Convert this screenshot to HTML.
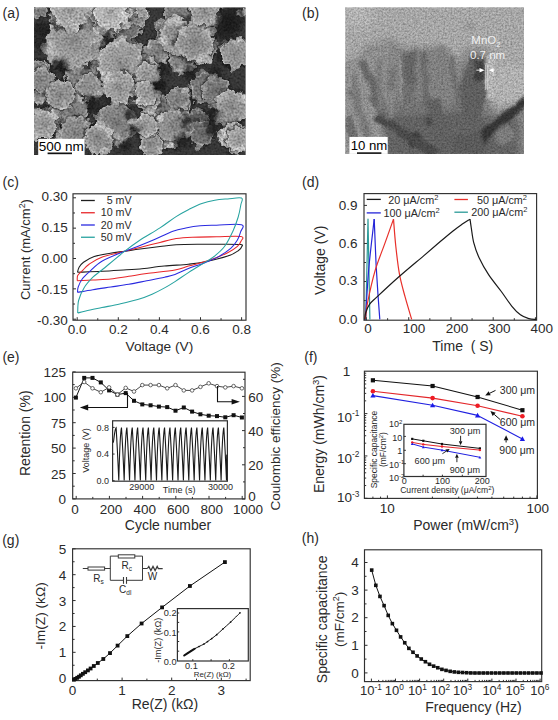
<!DOCTYPE html><html><head><meta charset="utf-8"><style>html,body{margin:0;padding:0;background:#fff;width:558px;height:720px;overflow:hidden}svg text{font-family:"Liberation Sans", sans-serif}</style></head><body><svg width="558" height="720" viewBox="0 0 558 720" style="position:absolute;left:0;top:0" font-family='"Liberation Sans", sans-serif'>
<rect width="558" height="720" fill="#ffffff"/>
<defs>
<filter id="texA" x="0" y="0" width="100%" height="100%">
  <feTurbulence type="fractalNoise" baseFrequency="0.15" numOctaves="2" seed="4" result="dn"/>
  <feDisplacementMap in="SourceGraphic" in2="dn" scale="10" xChannelSelector="R" yChannelSelector="G" result="disp"/>
  <feGaussianBlur in="disp" stdDeviation="0.6" result="sb"/>
  <feTurbulence type="fractalNoise" baseFrequency="0.5" numOctaves="2" seed="7" result="n"/>
  <feColorMatrix in="n" type="matrix" values="1 0 0 0 0  1 0 0 0 0  1 0 0 0 0  0 0 0 0 1" result="g"/>
  <feComposite in="sb" in2="g" operator="arithmetic" k1="1.6" k2="0.2" k3="0" k4="0"/>
</filter>
<filter id="texB" x="0" y="0" width="100%" height="100%">
  <feTurbulence type="fractalNoise" baseFrequency="0.08" numOctaves="2" seed="9" result="dn"/>
  <feDisplacementMap in="SourceGraphic" in2="dn" scale="6" xChannelSelector="R" yChannelSelector="G" result="disp"/>
  <feGaussianBlur in="disp" stdDeviation="0.5" result="sb"/>
  <feTurbulence type="fractalNoise" baseFrequency="0.55" numOctaves="2" seed="11" result="n"/>
  <feColorMatrix in="n" type="matrix" values="1 0 0 0 0  1 0 0 0 0  1 0 0 0 0  0 0 0 0 1" result="g"/>
  <feComposite in="sb" in2="g" operator="arithmetic" k1="1.25" k2="0.38" k3="0" k4="0"/>
</filter>
<filter id="blur2"><feGaussianBlur stdDeviation="2"/></filter>
<filter id="blur15"><feGaussianBlur stdDeviation="1.4"/></filter>
<filter id="blur4"><feGaussianBlur stdDeviation="4"/></filter>
<filter id="blur1"><feGaussianBlur stdDeviation="1"/></filter>
<radialGradient id="blob" cx="50%" cy="50%" r="50%">
  <stop offset="0" stop-color="#fff" stop-opacity="1"/>
  <stop offset="0.7" stop-color="#fff" stop-opacity="0.85"/>
  <stop offset="1" stop-color="#fff" stop-opacity="0"/>
</radialGradient>
</defs>
<text x="2.50" y="17.60" font-size="14" text-anchor="start" fill="#2a2a2a">(a)</text>
<clipPath id="clipA"><rect x="34" y="7.5" width="211.5" height="147.5"/></clipPath>
<g clip-path="url(#clipA)">
<rect x="34" y="7.5" width="211.5" height="147.5" fill="#303030"/>
<g filter="url(#texA)">
<rect x="24" y="-2.5" width="231.5" height="167.5" fill="#383838"/>
<radialGradient id="halo"><stop offset="0.74" stop-color="#141414" stop-opacity="0.9"/><stop offset="1" stop-color="#161616" stop-opacity="0"/></radialGradient>
<radialGradient id="rim"><stop offset="0" stop-color="#000" stop-opacity="0.18"/><stop offset="0.75" stop-color="#fff" stop-opacity="0"/><stop offset="1" stop-color="#fff" stop-opacity="0.35"/></radialGradient>
<circle cx="197" cy="123.8" r="16.5" fill="url(#halo)"/>
<circle cx="197" cy="123.8" r="13.200000000000001" fill="#5a5a5a"/>
<circle cx="188.0" cy="115.1" r="4.2" fill="#7b7b7b"/>
<circle cx="196.2" cy="110.8" r="2.7" fill="#636363"/>
<circle cx="198.8" cy="112.7" r="2.7" fill="#505050"/>
<circle cx="205.9" cy="131.5" r="3.1" fill="#686868"/>
<circle cx="206.0" cy="130.5" r="4.1" fill="#606060"/>
<circle cx="194.6" cy="136.6" r="4.2" fill="#505050"/>
<circle cx="197" cy="123.8" r="13.200000000000001" fill="url(#rim)"/>
<circle cx="201.2" cy="133.4" r="15.8" fill="url(#halo)"/>
<circle cx="201.2" cy="133.4" r="12.635" fill="#6e6e6e"/>
<circle cx="202.0" cy="123.1" r="3.7" fill="#767676"/>
<circle cx="208.3" cy="140.6" r="4.2" fill="#676767"/>
<circle cx="203.0" cy="121.0" r="2.8" fill="#646464"/>
<circle cx="198.1" cy="145.6" r="3.5" fill="#858585"/>
<circle cx="193.8" cy="125.9" r="4.4" fill="#666666"/>
<circle cx="201.2" cy="133.4" r="12.635" fill="url(#rim)"/>
<circle cx="129" cy="27" r="15.1" fill="url(#halo)"/>
<circle cx="129" cy="27" r="12.100000000000001" fill="#6e6e6e"/>
<circle cx="140.6" cy="24.5" r="3.0" fill="#717171"/>
<circle cx="118.7" cy="33.1" r="2.9" fill="#6f6f6f"/>
<circle cx="125.5" cy="37.6" r="2.4" fill="#858585"/>
<circle cx="126.4" cy="17.5" r="3.1" fill="#6d6d6d"/>
<circle cx="118.6" cy="28.3" r="3.3" fill="#878787"/>
<circle cx="129" cy="27" r="12.100000000000001" fill="url(#rim)"/>
<circle cx="205.0" cy="87.8" r="18.1" fill="url(#halo)"/>
<circle cx="205.0" cy="87.8" r="14.44" fill="#747474"/>
<circle cx="210.5" cy="98.8" r="4.9" fill="#8f8f8f"/>
<circle cx="197.0" cy="97.7" r="4.1" fill="#7a7a7a"/>
<circle cx="196.2" cy="97.7" r="2.9" fill="#626262"/>
<circle cx="201.5" cy="74.9" r="5.0" fill="#676767"/>
<circle cx="205.5" cy="73.6" r="4.9" fill="#767676"/>
<circle cx="190.9" cy="86.7" r="3.4" fill="#7d7d7d"/>
<circle cx="205.0" cy="87.8" r="14.44" fill="url(#rim)"/>
<circle cx="216" cy="89.6" r="16.5" fill="url(#halo)"/>
<circle cx="216" cy="89.6" r="13.200000000000001" fill="#747474"/>
<circle cx="225.8" cy="97.5" r="4.2" fill="#979797"/>
<circle cx="212.7" cy="100.8" r="4.6" fill="#6d6d6d"/>
<circle cx="209.4" cy="99.8" r="4.5" fill="#757575"/>
<circle cx="214.0" cy="101.9" r="2.8" fill="#8b8b8b"/>
<circle cx="211.5" cy="99.7" r="2.8" fill="#696969"/>
<circle cx="213.9" cy="78.4" r="3.6" fill="#8e8e8e"/>
<circle cx="216" cy="89.6" r="13.200000000000001" fill="url(#rim)"/>
<circle cx="178.4" cy="15.6" r="18.1" fill="url(#halo)"/>
<circle cx="178.4" cy="15.6" r="14.44" fill="#7a7a7a"/>
<circle cx="192.1" cy="19.9" r="4.0" fill="#7f7f7f"/>
<circle cx="191.8" cy="18.3" r="3.6" fill="#767676"/>
<circle cx="166.1" cy="19.1" r="3.0" fill="#8e8e8e"/>
<circle cx="191.1" cy="18.2" r="4.7" fill="#6e6e6e"/>
<circle cx="191.5" cy="14.1" r="3.2" fill="#989898"/>
<circle cx="168.1" cy="21.8" r="3.7" fill="#696969"/>
<circle cx="178.4" cy="15.6" r="14.44" fill="url(#rim)"/>
<circle cx="91.0" cy="84.0" r="18.1" fill="url(#halo)"/>
<circle cx="91.0" cy="84.0" r="14.44" fill="#7a7a7a"/>
<circle cx="98.0" cy="73.7" r="3.9" fill="#8d8d8d"/>
<circle cx="99.6" cy="72.5" r="3.9" fill="#858585"/>
<circle cx="86.3" cy="72.4" r="3.5" fill="#848484"/>
<circle cx="81.1" cy="90.8" r="3.7" fill="#888888"/>
<circle cx="103.9" cy="80.7" r="4.0" fill="#7b7b7b"/>
<circle cx="96.5" cy="95.7" r="4.0" fill="#898989"/>
<circle cx="91.0" cy="84.0" r="14.44" fill="url(#rim)"/>
<circle cx="178.4" cy="103.0" r="15.8" fill="url(#halo)"/>
<circle cx="178.4" cy="103.0" r="12.635" fill="#7a7a7a"/>
<circle cx="185.8" cy="94.8" r="4.0" fill="#979797"/>
<circle cx="171.3" cy="112.1" r="2.6" fill="#797979"/>
<circle cx="170.6" cy="112.0" r="3.1" fill="#858585"/>
<circle cx="177.2" cy="115.5" r="3.9" fill="#7b7b7b"/>
<circle cx="171.6" cy="93.6" r="2.5" fill="#898989"/>
<circle cx="178.4" cy="103.0" r="12.635" fill="url(#rim)"/>
<circle cx="110.0" cy="129.6" r="18.1" fill="url(#halo)"/>
<circle cx="110.0" cy="129.6" r="14.44" fill="#7a7a7a"/>
<circle cx="111.9" cy="117.2" r="3.5" fill="#787878"/>
<circle cx="115.5" cy="117.3" r="4.6" fill="#7c7c7c"/>
<circle cx="108.1" cy="142.0" r="4.9" fill="#808080"/>
<circle cx="101.8" cy="140.9" r="4.8" fill="#929292"/>
<circle cx="98.0" cy="133.5" r="3.6" fill="#6f6f6f"/>
<circle cx="98.2" cy="127.4" r="4.7" fill="#9c9c9c"/>
<circle cx="110.0" cy="129.6" r="14.44" fill="url(#rim)"/>
<circle cx="39.7" cy="11.8" r="8.8" fill="url(#halo)"/>
<circle cx="39.7" cy="11.8" r="7" fill="#7a7a7a"/>
<circle cx="33.2" cy="12.7" r="2.2" fill="#949494"/>
<circle cx="34.1" cy="15.0" r="2.4" fill="#878787"/>
<circle cx="36.6" cy="6.5" r="2.1" fill="#979797"/>
<circle cx="39.7" cy="11.8" r="7" fill="url(#rim)"/>
<circle cx="155.6" cy="49.8" r="13.5" fill="url(#halo)"/>
<circle cx="155.6" cy="49.8" r="10.83" fill="#818181"/>
<circle cx="161.8" cy="42.9" r="3.8" fill="#797979"/>
<circle cx="160.8" cy="57.9" r="3.2" fill="#7b7b7b"/>
<circle cx="156.1" cy="40.8" r="3.3" fill="#8b8b8b"/>
<circle cx="164.5" cy="48.7" r="3.6" fill="#747474"/>
<circle cx="155.6" cy="49.8" r="10.83" fill="url(#rim)"/>
<circle cx="60.6" cy="95.4" r="18.1" fill="url(#halo)"/>
<circle cx="60.6" cy="95.4" r="14.44" fill="#818181"/>
<circle cx="55.6" cy="106.4" r="3.3" fill="#6f6f6f"/>
<circle cx="49.8" cy="101.8" r="4.3" fill="#717171"/>
<circle cx="50.3" cy="88.8" r="4.8" fill="#6d6d6d"/>
<circle cx="52.2" cy="106.9" r="4.7" fill="#a4a4a4"/>
<circle cx="71.1" cy="104.6" r="3.7" fill="#6f6f6f"/>
<circle cx="48.8" cy="91.6" r="3.5" fill="#8d8d8d"/>
<circle cx="60.6" cy="95.4" r="14.44" fill="url(#rim)"/>
<circle cx="39.7" cy="72.6" r="15.1" fill="url(#halo)"/>
<circle cx="39.7" cy="72.6" r="12.100000000000001" fill="#818181"/>
<circle cx="33.8" cy="82.0" r="4.2" fill="#a1a1a1"/>
<circle cx="47.0" cy="80.3" r="3.4" fill="#8f8f8f"/>
<circle cx="32.9" cy="79.9" r="3.5" fill="#919191"/>
<circle cx="29.6" cy="74.1" r="2.7" fill="#727272"/>
<circle cx="32.7" cy="82.1" r="2.4" fill="#737373"/>
<circle cx="39.7" cy="72.6" r="12.100000000000001" fill="url(#rim)"/>
<circle cx="170.4" cy="32.7" r="17.9" fill="url(#halo)"/>
<circle cx="170.4" cy="32.7" r="14.3" fill="#818181"/>
<circle cx="163.9" cy="45.2" r="4.0" fill="#818181"/>
<circle cx="160.8" cy="22.5" r="3.7" fill="#888888"/>
<circle cx="183.1" cy="30.8" r="3.9" fill="#9a9a9a"/>
<circle cx="160.1" cy="42.4" r="4.8" fill="#939393"/>
<circle cx="159.1" cy="25.2" r="3.5" fill="#7d7d7d"/>
<circle cx="159.7" cy="39.0" r="5.0" fill="#8c8c8c"/>
<circle cx="170.4" cy="32.7" r="14.3" fill="url(#rim)"/>
<circle cx="157.1" cy="51.7" r="15.1" fill="url(#halo)"/>
<circle cx="157.1" cy="51.7" r="12.100000000000001" fill="#818181"/>
<circle cx="166.2" cy="47.4" r="2.5" fill="#979797"/>
<circle cx="149.3" cy="44.3" r="3.0" fill="#9f9f9f"/>
<circle cx="164.1" cy="59.7" r="3.3" fill="#909090"/>
<circle cx="155.3" cy="63.5" r="3.8" fill="#7c7c7c"/>
<circle cx="145.4" cy="52.4" r="3.7" fill="#7f7f7f"/>
<circle cx="157.1" cy="51.7" r="12.100000000000001" fill="url(#rim)"/>
<circle cx="183.7" cy="57.4" r="17.9" fill="url(#halo)"/>
<circle cx="183.7" cy="57.4" r="14.3" fill="#818181"/>
<circle cx="180.2" cy="70.1" r="3.9" fill="#969696"/>
<circle cx="192.8" cy="46.8" r="4.8" fill="#6e6e6e"/>
<circle cx="184.5" cy="45.1" r="4.0" fill="#828282"/>
<circle cx="173.5" cy="48.5" r="2.9" fill="#838383"/>
<circle cx="175.0" cy="67.8" r="4.1" fill="#6f6f6f"/>
<circle cx="196.7" cy="57.6" r="4.3" fill="#737373"/>
<circle cx="183.7" cy="57.4" r="14.3" fill="url(#rim)"/>
<circle cx="72" cy="110.5" r="20.6" fill="url(#halo)"/>
<circle cx="72" cy="110.5" r="16.5" fill="#818181"/>
<circle cx="83.4" cy="100.8" r="3.3" fill="#9e9e9e"/>
<circle cx="77.4" cy="96.3" r="5.0" fill="#959595"/>
<circle cx="62.5" cy="97.6" r="5.4" fill="#8b8b8b"/>
<circle cx="59.5" cy="120.6" r="3.8" fill="#7f7f7f"/>
<circle cx="56.7" cy="113.9" r="4.1" fill="#6d6d6d"/>
<circle cx="67.0" cy="96.7" r="4.0" fill="#9e9e9e"/>
<circle cx="58.0" cy="113.0" r="3.7" fill="#999999"/>
<circle cx="72" cy="110.5" r="16.5" fill="url(#rim)"/>
<circle cx="115.7" cy="121.9" r="23.4" fill="url(#halo)"/>
<circle cx="115.7" cy="121.9" r="18.700000000000003" fill="#818181"/>
<circle cx="99.7" cy="116.8" r="4.7" fill="#767676"/>
<circle cx="100.5" cy="129.6" r="3.9" fill="#9b9b9b"/>
<circle cx="118.0" cy="139.8" r="6.0" fill="#979797"/>
<circle cx="130.8" cy="116.1" r="4.9" fill="#717171"/>
<circle cx="133.3" cy="121.7" r="3.9" fill="#a2a2a2"/>
<circle cx="128.1" cy="133.9" r="6.1" fill="#747474"/>
<circle cx="112.1" cy="106.9" r="4.6" fill="#898989"/>
<circle cx="125.9" cy="135.8" r="4.9" fill="#777777"/>
<circle cx="115.7" cy="121.9" r="18.700000000000003" fill="url(#rim)"/>
<circle cx="75.8" cy="129.5" r="15.1" fill="url(#halo)"/>
<circle cx="75.8" cy="129.5" r="12.100000000000001" fill="#818181"/>
<circle cx="85.1" cy="133.7" r="3.4" fill="#979797"/>
<circle cx="68.7" cy="136.3" r="2.5" fill="#919191"/>
<circle cx="83.6" cy="136.7" r="3.6" fill="#6d6d6d"/>
<circle cx="66.3" cy="133.8" r="3.5" fill="#8c8c8c"/>
<circle cx="69.0" cy="138.5" r="4.1" fill="#757575"/>
<circle cx="75.8" cy="129.5" r="12.100000000000001" fill="url(#rim)"/>
<circle cx="162.8" cy="106.7" r="15.1" fill="url(#halo)"/>
<circle cx="162.8" cy="106.7" r="12.100000000000001" fill="#818181"/>
<circle cx="159.5" cy="97.2" r="3.6" fill="#8d8d8d"/>
<circle cx="159.8" cy="118.3" r="3.4" fill="#7b7b7b"/>
<circle cx="161.9" cy="117.7" r="2.9" fill="#9d9d9d"/>
<circle cx="160.3" cy="118.5" r="3.9" fill="#a4a4a4"/>
<circle cx="154.9" cy="115.0" r="2.7" fill="#9a9a9a"/>
<circle cx="162.8" cy="106.7" r="12.100000000000001" fill="url(#rim)"/>
<circle cx="178" cy="99.1" r="13.8" fill="url(#halo)"/>
<circle cx="178" cy="99.1" r="11.0" fill="#818181"/>
<circle cx="187.5" cy="100.2" r="3.1" fill="#6f6f6f"/>
<circle cx="185.6" cy="104.0" r="3.2" fill="#7c7c7c"/>
<circle cx="170.4" cy="105.4" r="3.8" fill="#737373"/>
<circle cx="180.6" cy="90.6" r="3.4" fill="#707070"/>
<circle cx="184.3" cy="90.2" r="2.9" fill="#9f9f9f"/>
<circle cx="178" cy="99.1" r="11.0" fill="url(#rim)"/>
<circle cx="39.7" cy="95.4" r="10.0" fill="url(#halo)"/>
<circle cx="39.7" cy="95.4" r="8" fill="#818181"/>
<circle cx="40.8" cy="101.9" r="2.8" fill="#979797"/>
<circle cx="33.0" cy="95.8" r="2.4" fill="#858585"/>
<circle cx="35.6" cy="100.8" r="2.0" fill="#949494"/>
<circle cx="39.7" cy="95.4" r="8" fill="url(#rim)"/>
<circle cx="81.5" cy="72.6" r="20.6" fill="url(#halo)"/>
<circle cx="81.5" cy="72.6" r="16.5" fill="#828282"/>
<circle cx="77.1" cy="57.4" r="4.2" fill="#9c9c9c"/>
<circle cx="89.0" cy="59.2" r="5.3" fill="#898989"/>
<circle cx="95.5" cy="69.1" r="3.4" fill="#929292"/>
<circle cx="84.5" cy="86.1" r="3.5" fill="#707070"/>
<circle cx="95.1" cy="75.5" r="3.4" fill="#8c8c8c"/>
<circle cx="73.9" cy="60.4" r="4.4" fill="#818181"/>
<circle cx="93.2" cy="62.9" r="4.4" fill="#8b8b8b"/>
<circle cx="81.5" cy="72.6" r="16.5" fill="url(#rim)"/>
<circle cx="136.6" cy="15.6" r="13.5" fill="url(#halo)"/>
<circle cx="136.6" cy="15.6" r="10.83" fill="#878787"/>
<circle cx="127.8" cy="17.8" r="3.2" fill="#777777"/>
<circle cx="129.9" cy="22.3" r="3.6" fill="#7c7c7c"/>
<circle cx="128.2" cy="12.7" r="3.5" fill="#a3a3a3"/>
<circle cx="134.5" cy="24.5" r="2.9" fill="#757575"/>
<circle cx="136.6" cy="15.6" r="10.83" fill="url(#rim)"/>
<circle cx="91.0" cy="49.8" r="18.1" fill="url(#halo)"/>
<circle cx="91.0" cy="49.8" r="14.44" fill="#878787"/>
<circle cx="83.3" cy="61.2" r="3.6" fill="#767676"/>
<circle cx="85.8" cy="37.3" r="3.9" fill="#7c7c7c"/>
<circle cx="100.9" cy="58.9" r="3.5" fill="#9e9e9e"/>
<circle cx="91.9" cy="64.2" r="3.0" fill="#a0a0a0"/>
<circle cx="103.1" cy="51.7" r="3.1" fill="#8c8c8c"/>
<circle cx="102.6" cy="42.6" r="4.4" fill="#7e7e7e"/>
<circle cx="91.0" cy="49.8" r="14.44" fill="url(#rim)"/>
<circle cx="201.2" cy="49.8" r="18.1" fill="url(#halo)"/>
<circle cx="201.2" cy="49.8" r="14.44" fill="#878787"/>
<circle cx="189.1" cy="52.3" r="4.5" fill="#a0a0a0"/>
<circle cx="187.7" cy="52.6" r="3.3" fill="#808080"/>
<circle cx="213.7" cy="44.9" r="3.8" fill="#848484"/>
<circle cx="212.9" cy="50.3" r="4.6" fill="#8d8d8d"/>
<circle cx="206.8" cy="60.0" r="4.7" fill="#a8a8a8"/>
<circle cx="188.7" cy="48.3" r="3.1" fill="#777777"/>
<circle cx="201.2" cy="49.8" r="14.44" fill="url(#rim)"/>
<circle cx="41.6" cy="80.2" r="15.8" fill="url(#halo)"/>
<circle cx="41.6" cy="80.2" r="12.635" fill="#878787"/>
<circle cx="42.6" cy="92.3" r="2.7" fill="#919191"/>
<circle cx="51.7" cy="83.8" r="2.6" fill="#8c8c8c"/>
<circle cx="43.6" cy="70.2" r="4.1" fill="#8f8f8f"/>
<circle cx="38.1" cy="89.8" r="2.6" fill="#7f7f7f"/>
<circle cx="46.5" cy="90.5" r="3.3" fill="#959595"/>
<circle cx="41.6" cy="80.2" r="12.635" fill="url(#rim)"/>
<circle cx="148.0" cy="99.2" r="15.8" fill="url(#halo)"/>
<circle cx="148.0" cy="99.2" r="12.635" fill="#878787"/>
<circle cx="149.3" cy="111.6" r="4.0" fill="#787878"/>
<circle cx="136.0" cy="96.0" r="3.7" fill="#a9a9a9"/>
<circle cx="146.5" cy="87.6" r="3.4" fill="#898989"/>
<circle cx="136.5" cy="100.2" r="3.2" fill="#9b9b9b"/>
<circle cx="154.8" cy="106.7" r="4.0" fill="#9f9f9f"/>
<circle cx="148.0" cy="99.2" r="12.635" fill="url(#rim)"/>
<circle cx="75.8" cy="133.4" r="20.3" fill="url(#halo)"/>
<circle cx="75.8" cy="133.4" r="16.245" fill="#878787"/>
<circle cx="60.9" cy="138.3" r="3.8" fill="#7a7a7a"/>
<circle cx="85.2" cy="144.5" r="5.1" fill="#838383"/>
<circle cx="81.7" cy="120.7" r="3.6" fill="#787878"/>
<circle cx="60.8" cy="136.1" r="5.2" fill="#979797"/>
<circle cx="68.8" cy="121.4" r="4.4" fill="#828282"/>
<circle cx="88.8" cy="137.5" r="3.9" fill="#8a8a8a"/>
<circle cx="85.8" cy="124.7" r="5.1" fill="#8b8b8b"/>
<circle cx="75.8" cy="133.4" r="16.245" fill="url(#rim)"/>
<circle cx="148.0" cy="122.0" r="13.5" fill="url(#halo)"/>
<circle cx="148.0" cy="122.0" r="10.83" fill="#878787"/>
<circle cx="148.1" cy="112.1" r="3.6" fill="#9c9c9c"/>
<circle cx="156.3" cy="118.7" r="2.2" fill="#7c7c7c"/>
<circle cx="152.1" cy="112.8" r="3.7" fill="#a1a1a1"/>
<circle cx="157.2" cy="124.8" r="2.3" fill="#a6a6a6"/>
<circle cx="148.0" cy="122.0" r="10.83" fill="url(#rim)"/>
<circle cx="205.0" cy="11.8" r="18.1" fill="url(#halo)"/>
<circle cx="205.0" cy="11.8" r="14.44" fill="#8d8d8d"/>
<circle cx="196.2" cy="19.8" r="3.0" fill="#838383"/>
<circle cx="213.4" cy="21.7" r="3.6" fill="#7b7b7b"/>
<circle cx="217.7" cy="17.1" r="4.1" fill="#7a7a7a"/>
<circle cx="215.4" cy="21.7" r="4.7" fill="#949494"/>
<circle cx="214.1" cy="0.8" r="4.2" fill="#878787"/>
<circle cx="193.3" cy="9.8" r="3.3" fill="#8f8f8f"/>
<circle cx="205.0" cy="11.8" r="14.44" fill="url(#rim)"/>
<circle cx="178.4" cy="36.5" r="22.6" fill="url(#halo)"/>
<circle cx="178.4" cy="36.5" r="18.05" fill="#8d8d8d"/>
<circle cx="194.9" cy="37.8" r="5.8" fill="#a7a7a7"/>
<circle cx="193.7" cy="34.8" r="5.3" fill="#a1a1a1"/>
<circle cx="174.4" cy="21.0" r="6.2" fill="#ababab"/>
<circle cx="164.3" cy="43.2" r="4.8" fill="#878787"/>
<circle cx="162.9" cy="40.4" r="4.8" fill="#aaaaaa"/>
<circle cx="171.0" cy="23.4" r="4.9" fill="#989898"/>
<circle cx="166.2" cy="28.1" r="5.8" fill="#939393"/>
<circle cx="172.4" cy="22.5" r="3.6" fill="#9d9d9d"/>
<circle cx="178.4" cy="36.5" r="18.05" fill="url(#rim)"/>
<circle cx="121.4" cy="87.8" r="18.1" fill="url(#halo)"/>
<circle cx="121.4" cy="87.8" r="14.44" fill="#8d8d8d"/>
<circle cx="122.6" cy="101.3" r="3.7" fill="#969696"/>
<circle cx="124.0" cy="99.9" r="3.3" fill="#9c9c9c"/>
<circle cx="107.7" cy="86.4" r="4.6" fill="#909090"/>
<circle cx="114.1" cy="97.6" r="5.0" fill="#aeaeae"/>
<circle cx="131.2" cy="81.4" r="4.0" fill="#8f8f8f"/>
<circle cx="130.1" cy="98.7" r="3.9" fill="#7b7b7b"/>
<circle cx="121.4" cy="87.8" r="14.44" fill="url(#rim)"/>
<circle cx="45.4" cy="122.0" r="18.1" fill="url(#halo)"/>
<circle cx="45.4" cy="122.0" r="14.44" fill="#8d8d8d"/>
<circle cx="56.0" cy="129.1" r="4.5" fill="#8b8b8b"/>
<circle cx="55.2" cy="114.9" r="4.6" fill="#8d8d8d"/>
<circle cx="32.6" cy="123.8" r="4.0" fill="#7e7e7e"/>
<circle cx="49.3" cy="110.0" r="2.9" fill="#999999"/>
<circle cx="34.9" cy="113.8" r="4.6" fill="#7a7a7a"/>
<circle cx="40.6" cy="132.6" r="3.6" fill="#919191"/>
<circle cx="45.4" cy="122.0" r="14.44" fill="url(#rim)"/>
<circle cx="167.0" cy="133.4" r="18.1" fill="url(#halo)"/>
<circle cx="167.0" cy="133.4" r="14.44" fill="#8d8d8d"/>
<circle cx="153.9" cy="133.3" r="4.4" fill="#959595"/>
<circle cx="180.8" cy="131.9" r="4.9" fill="#a5a5a5"/>
<circle cx="156.0" cy="129.3" r="3.2" fill="#939393"/>
<circle cx="158.4" cy="143.5" r="4.4" fill="#9a9a9a"/>
<circle cx="170.3" cy="145.3" r="2.9" fill="#aaaaaa"/>
<circle cx="158.8" cy="143.8" r="4.5" fill="#a6a6a6"/>
<circle cx="167.0" cy="133.4" r="14.44" fill="url(#rim)"/>
<circle cx="195.1" cy="42.2" r="23.4" fill="url(#halo)"/>
<circle cx="195.1" cy="42.2" r="18.700000000000003" fill="#8f8f8f"/>
<circle cx="179.2" cy="51.9" r="3.8" fill="#a8a8a8"/>
<circle cx="196.6" cy="57.2" r="4.0" fill="#8e8e8e"/>
<circle cx="209.1" cy="31.6" r="6.1" fill="#aaaaaa"/>
<circle cx="181.7" cy="31.7" r="5.1" fill="#808080"/>
<circle cx="207.7" cy="32.6" r="6.5" fill="#9d9d9d"/>
<circle cx="178.6" cy="50.8" r="5.6" fill="#939393"/>
<circle cx="202.7" cy="57.9" r="6.3" fill="#a6a6a6"/>
<circle cx="182.7" cy="31.5" r="4.0" fill="#a7a7a7"/>
<circle cx="195.1" cy="42.2" r="18.700000000000003" fill="url(#rim)"/>
<circle cx="235" cy="53.6" r="17.9" fill="url(#halo)"/>
<circle cx="235" cy="53.6" r="14.3" fill="#8f8f8f"/>
<circle cx="245.3" cy="45.0" r="5.0" fill="#8a8a8a"/>
<circle cx="244.1" cy="45.7" r="3.5" fill="#8c8c8c"/>
<circle cx="238.4" cy="42.4" r="4.9" fill="#7f7f7f"/>
<circle cx="225.8" cy="43.5" r="3.3" fill="#7f7f7f"/>
<circle cx="223.0" cy="48.0" r="4.2" fill="#9d9d9d"/>
<circle cx="233.3" cy="41.1" r="3.8" fill="#9c9c9c"/>
<circle cx="235" cy="53.6" r="14.3" fill="url(#rim)"/>
<circle cx="60.6" cy="95.3" r="17.9" fill="url(#halo)"/>
<circle cx="60.6" cy="95.3" r="14.3" fill="#8f8f8f"/>
<circle cx="50.6" cy="88.4" r="3.8" fill="#808080"/>
<circle cx="49.4" cy="86.6" r="3.3" fill="#7c7c7c"/>
<circle cx="67.9" cy="105.2" r="4.1" fill="#9f9f9f"/>
<circle cx="65.4" cy="106.3" r="4.1" fill="#a4a4a4"/>
<circle cx="63.4" cy="83.2" r="3.0" fill="#9a9a9a"/>
<circle cx="69.0" cy="105.1" r="3.0" fill="#878787"/>
<circle cx="60.6" cy="95.3" r="14.3" fill="url(#rim)"/>
<circle cx="98.6" cy="139" r="17.9" fill="url(#halo)"/>
<circle cx="98.6" cy="139" r="14.3" fill="#8f8f8f"/>
<circle cx="106.4" cy="128.3" r="4.8" fill="#898989"/>
<circle cx="108.9" cy="130.8" r="4.6" fill="#b0b0b0"/>
<circle cx="108.3" cy="146.1" r="3.2" fill="#808080"/>
<circle cx="92.2" cy="149.7" r="4.5" fill="#9f9f9f"/>
<circle cx="99.3" cy="125.5" r="4.6" fill="#aeaeae"/>
<circle cx="104.3" cy="151.8" r="4.0" fill="#a0a0a0"/>
<circle cx="98.6" cy="139" r="14.3" fill="url(#rim)"/>
<circle cx="89" cy="85.8" r="15.1" fill="url(#halo)"/>
<circle cx="89" cy="85.8" r="12.100000000000001" fill="#8f8f8f"/>
<circle cx="80.5" cy="77.3" r="2.6" fill="#818181"/>
<circle cx="93.0" cy="76.5" r="3.0" fill="#868686"/>
<circle cx="78.1" cy="88.7" r="3.8" fill="#808080"/>
<circle cx="89.3" cy="97.8" r="3.3" fill="#7b7b7b"/>
<circle cx="97.2" cy="93.3" r="3.1" fill="#a6a6a6"/>
<circle cx="89" cy="85.8" r="12.100000000000001" fill="url(#rim)"/>
<circle cx="172.3" cy="125.7" r="20.6" fill="url(#halo)"/>
<circle cx="172.3" cy="125.7" r="16.5" fill="#8f8f8f"/>
<circle cx="186.8" cy="126.0" r="4.1" fill="#aaaaaa"/>
<circle cx="186.4" cy="132.6" r="5.1" fill="#8d8d8d"/>
<circle cx="188.1" cy="127.3" r="5.8" fill="#ababab"/>
<circle cx="171.0" cy="109.5" r="4.2" fill="#8d8d8d"/>
<circle cx="185.0" cy="117.1" r="5.2" fill="#808080"/>
<circle cx="159.7" cy="119.2" r="4.1" fill="#b1b1b1"/>
<circle cx="185.8" cy="131.4" r="3.8" fill="#8a8a8a"/>
<circle cx="172.3" cy="125.7" r="16.5" fill="url(#rim)"/>
<circle cx="227.4" cy="110.5" r="17.9" fill="url(#halo)"/>
<circle cx="227.4" cy="110.5" r="14.3" fill="#8f8f8f"/>
<circle cx="225.6" cy="123.9" r="3.2" fill="#818181"/>
<circle cx="215.4" cy="106.3" r="3.2" fill="#b1b1b1"/>
<circle cx="216.7" cy="119.7" r="3.1" fill="#919191"/>
<circle cx="235.4" cy="119.0" r="4.6" fill="#848484"/>
<circle cx="220.0" cy="119.3" r="3.4" fill="#989898"/>
<circle cx="240.8" cy="106.8" r="3.0" fill="#888888"/>
<circle cx="227.4" cy="110.5" r="14.3" fill="url(#rim)"/>
<circle cx="151.4" cy="144.7" r="15.1" fill="url(#halo)"/>
<circle cx="151.4" cy="144.7" r="12.100000000000001" fill="#8f8f8f"/>
<circle cx="155.4" cy="155.6" r="2.4" fill="#9c9c9c"/>
<circle cx="160.3" cy="150.0" r="4.2" fill="#a6a6a6"/>
<circle cx="141.8" cy="146.5" r="2.7" fill="#acacac"/>
<circle cx="153.3" cy="134.1" r="3.5" fill="#a5a5a5"/>
<circle cx="144.5" cy="135.8" r="2.5" fill="#7c7c7c"/>
<circle cx="151.4" cy="144.7" r="12.100000000000001" fill="url(#rim)"/>
<circle cx="68.2" cy="38.4" r="24.8" fill="url(#halo)"/>
<circle cx="68.2" cy="38.4" r="19.854999999999997" fill="#939393"/>
<circle cx="51.7" cy="47.3" r="6.4" fill="#b3b3b3"/>
<circle cx="77.1" cy="21.0" r="5.1" fill="#b3b3b3"/>
<circle cx="69.0" cy="19.0" r="4.4" fill="#b0b0b0"/>
<circle cx="75.2" cy="56.3" r="4.2" fill="#969696"/>
<circle cx="71.8" cy="55.6" r="4.8" fill="#9d9d9d"/>
<circle cx="57.8" cy="50.4" r="5.9" fill="#b0b0b0"/>
<circle cx="76.8" cy="53.9" r="4.2" fill="#979797"/>
<circle cx="85.3" cy="42.3" r="4.4" fill="#a8a8a8"/>
<circle cx="87.2" cy="40.6" r="6.8" fill="#a5a5a5"/>
<circle cx="68.2" cy="38.4" r="19.854999999999997" fill="url(#rim)"/>
<circle cx="144.2" cy="72.6" r="20.3" fill="url(#halo)"/>
<circle cx="144.2" cy="72.6" r="16.245" fill="#939393"/>
<circle cx="130.2" cy="76.4" r="3.4" fill="#969696"/>
<circle cx="156.3" cy="67.6" r="3.7" fill="#9a9a9a"/>
<circle cx="155.7" cy="79.5" r="4.8" fill="#949494"/>
<circle cx="146.3" cy="59.3" r="4.5" fill="#ababab"/>
<circle cx="131.2" cy="67.7" r="3.5" fill="#989898"/>
<circle cx="134.2" cy="82.6" r="4.4" fill="#a4a4a4"/>
<circle cx="129.4" cy="78.1" r="5.6" fill="#878787"/>
<circle cx="144.2" cy="72.6" r="16.245" fill="url(#rim)"/>
<circle cx="235.4" cy="53.6" r="18.1" fill="url(#halo)"/>
<circle cx="235.4" cy="53.6" r="14.44" fill="#939393"/>
<circle cx="234.3" cy="66.7" r="4.5" fill="#878787"/>
<circle cx="236.5" cy="67.0" r="3.0" fill="#7f7f7f"/>
<circle cx="237.1" cy="41.0" r="4.0" fill="#a6a6a6"/>
<circle cx="236.5" cy="66.0" r="4.6" fill="#8e8e8e"/>
<circle cx="247.7" cy="56.6" r="3.6" fill="#808080"/>
<circle cx="223.4" cy="49.0" r="3.1" fill="#868686"/>
<circle cx="235.4" cy="53.6" r="14.44" fill="url(#rim)"/>
<circle cx="231.6" cy="106.8" r="20.3" fill="url(#halo)"/>
<circle cx="231.6" cy="106.8" r="16.245" fill="#939393"/>
<circle cx="244.2" cy="100.3" r="4.5" fill="#acacac"/>
<circle cx="218.7" cy="99.4" r="4.2" fill="#979797"/>
<circle cx="227.3" cy="119.6" r="5.5" fill="#838383"/>
<circle cx="223.5" cy="96.4" r="3.8" fill="#a6a6a6"/>
<circle cx="219.4" cy="117.1" r="4.0" fill="#a2a2a2"/>
<circle cx="221.6" cy="117.0" r="4.4" fill="#838383"/>
<circle cx="216.8" cy="107.3" r="3.8" fill="#9c9c9c"/>
<circle cx="231.6" cy="106.8" r="16.245" fill="url(#rim)"/>
<circle cx="73.9" cy="40.3" r="34.4" fill="url(#halo)"/>
<circle cx="73.9" cy="40.3" r="27.500000000000004" fill="#969696"/>
<circle cx="99.1" cy="47.1" r="6.0" fill="#8b8b8b"/>
<circle cx="57.1" cy="57.3" r="8.9" fill="#a0a0a0"/>
<circle cx="79.4" cy="14.8" r="6.6" fill="#b7b7b7"/>
<circle cx="97.0" cy="43.9" r="6.2" fill="#b4b4b4"/>
<circle cx="74.5" cy="63.7" r="9.1" fill="#9e9e9e"/>
<circle cx="96.8" cy="26.8" r="7.9" fill="#a6a6a6"/>
<circle cx="98.6" cy="48.7" r="7.8" fill="#828282"/>
<circle cx="49.1" cy="47.4" r="8.0" fill="#adadad"/>
<circle cx="89.2" cy="24.2" r="7.9" fill="#898989"/>
<circle cx="52.6" cy="53.3" r="7.3" fill="#a6a6a6"/>
<circle cx="78.7" cy="67.1" r="6.0" fill="#868686"/>
<circle cx="69.0" cy="15.5" r="5.7" fill="#afafaf"/>
<circle cx="73.9" cy="40.3" r="27.500000000000004" fill="url(#rim)"/>
<circle cx="119.5" cy="61.2" r="24.8" fill="url(#halo)"/>
<circle cx="119.5" cy="61.2" r="19.854999999999997" fill="#9a9a9a"/>
<circle cx="101.6" cy="65.8" r="6.6" fill="#b4b4b4"/>
<circle cx="129.9" cy="44.5" r="6.0" fill="#979797"/>
<circle cx="133.2" cy="74.2" r="4.7" fill="#999999"/>
<circle cx="113.6" cy="79.7" r="4.9" fill="#b0b0b0"/>
<circle cx="134.0" cy="51.0" r="4.4" fill="#939393"/>
<circle cx="135.6" cy="55.2" r="5.8" fill="#a3a3a3"/>
<circle cx="134.2" cy="70.3" r="4.2" fill="#a1a1a1"/>
<circle cx="102.9" cy="68.0" r="5.1" fill="#929292"/>
<circle cx="131.0" cy="74.9" r="6.0" fill="#a2a2a2"/>
<circle cx="119.5" cy="61.2" r="19.854999999999997" fill="url(#rim)"/>
<circle cx="235.4" cy="137.2" r="18.1" fill="url(#halo)"/>
<circle cx="235.4" cy="137.2" r="14.44" fill="#9a9a9a"/>
<circle cx="246.9" cy="132.2" r="2.9" fill="#a1a1a1"/>
<circle cx="233.9" cy="150.1" r="4.0" fill="#939393"/>
<circle cx="222.7" cy="132.6" r="3.8" fill="#b8b8b8"/>
<circle cx="235.3" cy="149.7" r="4.2" fill="#929292"/>
<circle cx="234.7" cy="149.8" r="4.8" fill="#969696"/>
<circle cx="221.8" cy="138.3" r="3.1" fill="#bababa"/>
<circle cx="235.4" cy="137.2" r="14.44" fill="url(#rim)"/>
<circle cx="121.4" cy="63.1" r="28.9" fill="url(#halo)"/>
<circle cx="121.4" cy="63.1" r="23.1" fill="#9c9c9c"/>
<circle cx="137.8" cy="77.8" r="5.8" fill="#8e8e8e"/>
<circle cx="135.0" cy="48.7" r="7.2" fill="#939393"/>
<circle cx="143.3" cy="70.2" r="6.0" fill="#b0b0b0"/>
<circle cx="110.2" cy="82.1" r="5.0" fill="#bebebe"/>
<circle cx="112.4" cy="79.7" r="4.8" fill="#b5b5b5"/>
<circle cx="109.4" cy="82.8" r="6.0" fill="#8c8c8c"/>
<circle cx="115.3" cy="81.4" r="7.9" fill="#bababa"/>
<circle cx="119.6" cy="40.3" r="6.0" fill="#a5a5a5"/>
<circle cx="104.5" cy="72.9" r="4.7" fill="#acacac"/>
<circle cx="100.6" cy="57.6" r="7.0" fill="#9c9c9c"/>
<circle cx="121.4" cy="63.1" r="23.1" fill="url(#rim)"/>
<circle cx="204.6" cy="11.8" r="17.9" fill="url(#halo)"/>
<circle cx="204.6" cy="11.8" r="14.3" fill="#9c9c9c"/>
<circle cx="217.5" cy="6.0" r="3.9" fill="#8e8e8e"/>
<circle cx="210.4" cy="22.4" r="4.2" fill="#8e8e8e"/>
<circle cx="216.9" cy="19.0" r="4.0" fill="#a3a3a3"/>
<circle cx="213.8" cy="19.9" r="3.8" fill="#bcbcbc"/>
<circle cx="193.8" cy="17.1" r="4.0" fill="#909090"/>
<circle cx="194.8" cy="20.8" r="4.8" fill="#9c9c9c"/>
<circle cx="204.6" cy="11.8" r="14.3" fill="url(#rim)"/>
<circle cx="147.6" cy="74.5" r="15.1" fill="url(#halo)"/>
<circle cx="147.6" cy="74.5" r="12.100000000000001" fill="#9c9c9c"/>
<circle cx="156.0" cy="66.8" r="2.5" fill="#9b9b9b"/>
<circle cx="158.9" cy="78.4" r="3.3" fill="#a4a4a4"/>
<circle cx="136.6" cy="70.7" r="3.6" fill="#989898"/>
<circle cx="145.2" cy="85.7" r="2.9" fill="#a6a6a6"/>
<circle cx="138.2" cy="81.0" r="2.6" fill="#aeaeae"/>
<circle cx="147.6" cy="74.5" r="12.100000000000001" fill="url(#rim)"/>
<circle cx="141.9" cy="11.8" r="8.2" fill="url(#halo)"/>
<circle cx="141.9" cy="11.8" r="6.6000000000000005" fill="#9c9c9c"/>
<circle cx="143.7" cy="17.7" r="2.0" fill="#8e8e8e"/>
<circle cx="136.6" cy="13.7" r="1.6" fill="#b1b1b1"/>
<circle cx="146.9" cy="14.9" r="1.9" fill="#bebebe"/>
<circle cx="141.9" cy="11.8" r="6.6000000000000005" fill="url(#rim)"/>
<circle cx="43.5" cy="123.8" r="17.9" fill="url(#halo)"/>
<circle cx="43.5" cy="123.8" r="14.3" fill="#9c9c9c"/>
<circle cx="37.4" cy="111.5" r="3.9" fill="#9b9b9b"/>
<circle cx="32.9" cy="117.9" r="3.6" fill="#8b8b8b"/>
<circle cx="30.9" cy="120.4" r="3.3" fill="#898989"/>
<circle cx="36.7" cy="135.0" r="4.2" fill="#a7a7a7"/>
<circle cx="52.6" cy="114.7" r="4.2" fill="#aeaeae"/>
<circle cx="36.5" cy="135.9" r="3.1" fill="#a2a2a2"/>
<circle cx="43.5" cy="123.8" r="14.3" fill="url(#rim)"/>
<circle cx="119.5" cy="87.7" r="20.6" fill="url(#halo)"/>
<circle cx="119.5" cy="87.7" r="16.5" fill="#9c9c9c"/>
<circle cx="115.5" cy="101.6" r="5.2" fill="#9a9a9a"/>
<circle cx="110.7" cy="74.7" r="5.1" fill="#888888"/>
<circle cx="105.8" cy="88.8" r="5.7" fill="#a2a2a2"/>
<circle cx="111.8" cy="75.3" r="5.4" fill="#b3b3b3"/>
<circle cx="103.8" cy="91.6" r="4.6" fill="#9c9c9c"/>
<circle cx="115.9" cy="72.9" r="5.3" fill="#929292"/>
<circle cx="105.9" cy="80.6" r="4.6" fill="#a6a6a6"/>
<circle cx="119.5" cy="87.7" r="16.5" fill="url(#rim)"/>
<circle cx="145.7" cy="93.4" r="15.1" fill="url(#halo)"/>
<circle cx="145.7" cy="93.4" r="12.100000000000001" fill="#9c9c9c"/>
<circle cx="147.3" cy="81.8" r="2.5" fill="#aaaaaa"/>
<circle cx="157.7" cy="93.6" r="3.8" fill="#929292"/>
<circle cx="157.3" cy="91.5" r="2.9" fill="#bdbdbd"/>
<circle cx="137.7" cy="99.3" r="3.2" fill="#bfbfbf"/>
<circle cx="147.1" cy="103.7" r="2.4" fill="#b2b2b2"/>
<circle cx="145.7" cy="93.4" r="12.100000000000001" fill="url(#rim)"/>
<circle cx="145.7" cy="125.7" r="13.8" fill="url(#halo)"/>
<circle cx="145.7" cy="125.7" r="11.0" fill="#9c9c9c"/>
<circle cx="146.5" cy="134.6" r="3.7" fill="#9f9f9f"/>
<circle cx="137.0" cy="129.5" r="3.4" fill="#9f9f9f"/>
<circle cx="136.3" cy="122.2" r="3.5" fill="#bababa"/>
<circle cx="142.2" cy="117.5" r="2.6" fill="#bdbdbd"/>
<circle cx="155.4" cy="125.9" r="3.0" fill="#949494"/>
<circle cx="145.7" cy="125.7" r="11.0" fill="url(#rim)"/>
<circle cx="68.2" cy="13.7" r="20.3" fill="url(#halo)"/>
<circle cx="68.2" cy="13.7" r="16.245" fill="#a0a0a0"/>
<circle cx="69.5" cy="0.4" r="4.4" fill="#a8a8a8"/>
<circle cx="79.9" cy="5.1" r="4.0" fill="#909090"/>
<circle cx="83.6" cy="16.1" r="5.1" fill="#b3b3b3"/>
<circle cx="53.6" cy="16.9" r="4.7" fill="#c2c2c2"/>
<circle cx="76.3" cy="2.7" r="4.8" fill="#a8a8a8"/>
<circle cx="81.8" cy="12.8" r="3.4" fill="#a1a1a1"/>
<circle cx="72.7" cy="27.7" r="5.4" fill="#979797"/>
<circle cx="68.2" cy="13.7" r="16.245" fill="url(#rim)"/>
<circle cx="238.8" cy="139" r="15.1" fill="url(#halo)"/>
<circle cx="238.8" cy="139" r="12.100000000000001" fill="#a0a0a0"/>
<circle cx="240.6" cy="148.5" r="3.2" fill="#9f9f9f"/>
<circle cx="243.3" cy="149.9" r="3.1" fill="#bdbdbd"/>
<circle cx="250.1" cy="135.6" r="3.7" fill="#999999"/>
<circle cx="246.8" cy="147.7" r="2.7" fill="#8d8d8d"/>
<circle cx="237.2" cy="149.8" r="2.8" fill="#b8b8b8"/>
<circle cx="238.8" cy="139" r="12.100000000000001" fill="url(#rim)"/>
<circle cx="70.1" cy="9.9" r="23.4" fill="url(#halo)"/>
<circle cx="70.1" cy="9.9" r="18.700000000000003" fill="#a6a6a6"/>
<circle cx="81.3" cy="-3.6" r="5.9" fill="#c9c9c9"/>
<circle cx="71.9" cy="26.3" r="6.0" fill="#c6c6c6"/>
<circle cx="60.7" cy="-4.8" r="6.2" fill="#bfbfbf"/>
<circle cx="68.4" cy="-7.7" r="4.3" fill="#b7b7b7"/>
<circle cx="70.1" cy="27.4" r="5.9" fill="#9e9e9e"/>
<circle cx="78.1" cy="-6.9" r="4.2" fill="#bababa"/>
<circle cx="84.4" cy="19.6" r="4.8" fill="#9b9b9b"/>
<circle cx="59.2" cy="-1.3" r="5.3" fill="#bfbfbf"/>
<circle cx="70.1" cy="9.9" r="18.700000000000003" fill="url(#rim)"/>
<circle cx="243.5" cy="11.8" r="5.5" fill="url(#halo)"/>
<circle cx="243.5" cy="11.8" r="4.4" fill="#a9a9a9"/>
<circle cx="240.3" cy="13.4" r="0.9" fill="#b8b8b8"/>
<circle cx="239.3" cy="12.7" r="1.5" fill="#c3c3c3"/>
<circle cx="243.5" cy="11.8" r="4.4" fill="url(#rim)"/>
<circle cx="110.0" cy="13.7" r="24.8" fill="url(#halo)"/>
<circle cx="110.0" cy="13.7" r="19.854999999999997" fill="#acacac"/>
<circle cx="124.4" cy="6.3" r="4.4" fill="#989898"/>
<circle cx="128.7" cy="12.3" r="5.1" fill="#b6b6b6"/>
<circle cx="108.3" cy="31.8" r="6.6" fill="#adadad"/>
<circle cx="96.0" cy="2.4" r="4.5" fill="#b3b3b3"/>
<circle cx="91.6" cy="6.6" r="4.0" fill="#b6b6b6"/>
<circle cx="104.7" cy="32.1" r="4.2" fill="#bababa"/>
<circle cx="93.9" cy="15.3" r="5.9" fill="#acacac"/>
<circle cx="125.6" cy="24.2" r="5.2" fill="#acacac"/>
<circle cx="98.8" cy="29.0" r="4.1" fill="#c0c0c0"/>
<circle cx="110.0" cy="13.7" r="19.854999999999997" fill="url(#rim)"/>
<circle cx="110" cy="13.7" r="20.6" fill="url(#halo)"/>
<circle cx="110" cy="13.7" r="16.5" fill="#b6b6b6"/>
<circle cx="104.0" cy="1.5" r="4.6" fill="#a7a7a7"/>
<circle cx="111.5" cy="-2.3" r="5.0" fill="#a7a7a7"/>
<circle cx="124.4" cy="17.5" r="4.5" fill="#bebebe"/>
<circle cx="105.2" cy="27.5" r="4.8" fill="#c6c6c6"/>
<circle cx="123.9" cy="20.4" r="3.9" fill="#b4b4b4"/>
<circle cx="117.4" cy="0.5" r="3.5" fill="#bababa"/>
<circle cx="106.5" cy="26.8" r="4.2" fill="#bdbdbd"/>
<circle cx="110" cy="13.7" r="16.5" fill="url(#rim)"/>
<g filter="url(#blur2)">
<circle cx="39.7" cy="30" r="7.6" fill="#1c1c1c" opacity="0.85"/>
<circle cx="106" cy="36.5" r="6.0" fill="#1c1c1c" opacity="0.85"/>
<circle cx="62.5" cy="65" r="6.0" fill="#1c1c1c" opacity="0.85"/>
<circle cx="225.5" cy="27" r="12.8" fill="#1c1c1c" opacity="0.85"/>
<circle cx="163" cy="70" r="6.0" fill="#1c1c1c" opacity="0.85"/>
<circle cx="216" cy="72" r="6.0" fill="#1c1c1c" opacity="0.85"/>
<circle cx="92.9" cy="102.9" r="7.6" fill="#1c1c1c" opacity="0.85"/>
<circle cx="134.7" cy="129.5" r="5.1" fill="#1c1c1c" opacity="0.85"/>
<circle cx="125" cy="146" r="6.0" fill="#1c1c1c" opacity="0.85"/>
<circle cx="159" cy="87.7" r="6.0" fill="#1c1c1c" opacity="0.85"/>
<circle cx="181.8" cy="140.9" r="7.6" fill="#1c1c1c" opacity="0.85"/>
<circle cx="212.2" cy="129.5" r="7.6" fill="#1c1c1c" opacity="0.85"/>
<circle cx="231.6" cy="19.4" r="11.9" fill="#1c1c1c" opacity="0.85"/>
<circle cx="40" cy="45" r="6.8" fill="#1c1c1c" opacity="0.85"/>
<circle cx="56.8" cy="65.0" r="5.1" fill="#1c1c1c" opacity="0.85"/>
<circle cx="159.4" cy="84.0" r="6.0" fill="#1c1c1c" opacity="0.85"/>
<circle cx="189.8" cy="72.6" r="6.8" fill="#1c1c1c" opacity="0.85"/>
<circle cx="129.0" cy="114.4" r="5.1" fill="#1c1c1c" opacity="0.85"/>
<circle cx="186.0" cy="122.0" r="6.8" fill="#1c1c1c" opacity="0.85"/>
<circle cx="212.6" cy="114.4" r="6.8" fill="#1c1c1c" opacity="0.85"/>
</g>
</g></g>
<rect x="38.2" y="138.8" width="46.4" height="16.3" fill="#fff"/>
<text x="38.70" y="150.80" font-size="13.5" text-anchor="start" fill="#000">500 nm</text>
<rect x="47.6" y="152.5" width="24.4" height="1.7" fill="#111"/>
<text x="302.10" y="17.60" font-size="14" text-anchor="start" fill="#2a2a2a">(b)</text>
<clipPath id="clipB"><rect x="345.2" y="7.3" width="178.8" height="146.6"/></clipPath>
<g clip-path="url(#clipB)"><g filter="url(#texB)">
<rect x="335.2" y="-2.7" width="198.8" height="166.6" fill="#a6a6a6"/>
<g filter="url(#blur4)">
<path d="M340,64 L357.8,58.3 L364.2,48.7 L383.5,40.7 L393.1,37.5 L399.5,47.1 L428.4,47.1 L444.5,47.1 L454.1,64.7 L466.9,48.7 L486.2,48.7 L495.8,63.1 L530,71.2 L530,160 L340,160 Z" fill="#848484"/>
<path d="M496,64 L530,70 L530,97 L498,112 L490,90 Z" fill="#b0b0b0"/>
<path d="M380,104 L420,100 L470,112 L500,115 L520,118 L520,160 L380,160 Z" fill="#626262"/>
<path d="M345,95 L380,90 L384,160 L345,160 Z" fill="#969696"/>
<circle cx="358" cy="14" r="14" fill="#b2b2b2"/>
</g>
<g filter="url(#blur15)">
<path d="M345,66 L390,46 L398,53 L393,125 L345,135 Z" fill="#909090"/>
<path d="M358,62 L366,60 L397,128 L389,134 Z" fill="#686868"/>
<path d="M348,90 L354,88 L378,150 L370,154 Z" fill="#767676"/>
<path d="M401,51 L417,51 L416,100 L403,104 Z" fill="#5c5c5c"/>
<path d="M405,54 L415,54 L413,82 L406,84 Z" fill="#464646"/>
<path d="M390,68 L396,66 L394,88 L386,90 Z" fill="#6a6a6a"/>
<path d="M368,96 L375,95 L398,137 L391,140 Z" fill="#666"/>
<circle cx="414" cy="140" r="7.5" fill="#2e2e2e"/>
<path d="M435,48 L445,48 L447,90 L437,92 Z" fill="#808080"/>
<path d="M470,56 L490,58 L486,100 L478,121 L466,121 L455,99 Z" fill="#5e5e5e"/>
<path d="M474,60 L484,60 L484,82 L474,82 Z" fill="#404040"/>
<path d="M486,55 L496,55 L496,99 L486,99 Z" fill="#b2b2b2"/>
<path d="M530,93 L530,103 L489,137 L482,154 L474,154 L482,130 Z" fill="#363636"/>
<circle cx="431" cy="121" r="5" fill="#444"/>
<path d="M455,135 L480,130 L485,154 L450,154 Z" fill="#5a5a5a"/>
<circle cx="470" cy="26" r="5" fill="#9a9a9a"/>
<path d="M386,54 L395,47 L404,51 L417,47 L428,53 L437,46 L452,49 L456,112 L384,118 Z" fill="#7e7e7e" opacity="0.55"/>
<path d="M420,52 L427,51 L430,104 L423,106 Z" fill="#6c6c6c"/>
<path d="M449,55 L455,54 L462,110 L455,112 Z" fill="#707070"/>
<path d="M376,60 L382,58 L384,110 L378,112 Z" fill="#7a7a7a"/>
<path d="M350,75 L356,73 L366,125 L360,128 Z" fill="#7a7a7a"/>
<circle cx="505" cy="135" r="10" fill="#7a7a7a"/>
<path d="M372,118 L380,114 L440,150 L432,158 Z" fill="#4a4a4a"/>
<path d="M345,118 L352,116 L362,154 L352,156 Z" fill="#6a6a6a"/>
<path d="M425,100 L440,98 L455,150 L440,152 Z" fill="#606060"/>
</g>
<path d="M399.8,52 L401.5,96" stroke="#c8c8c8" stroke-width="1.6" opacity="0.45" filter="url(#blur1)"/>
<path d="M489,60 L490,95 M492,60 L493,95" stroke="#cfcfcf" stroke-width="0.7" opacity="0.6"/>
<path d="M495,66 L524,72" stroke="#c0c0c0" stroke-width="0.8" opacity="0.6"/>
</g></g>
<rect x="349.4" y="136.9" width="38.3" height="17" fill="#fff"/>
<text x="350.70" y="149.50" font-size="13.2" text-anchor="start" fill="#000">10 nm</text>
<rect x="357" y="152.3" width="24.4" height="1.6" fill="#111"/>
<text x="471.3" y="44.4" font-size="11.5" fill="#f0f0f0">MnO<tspan dy="2.5" font-size="7.5">2</tspan></text>
<text x="470" y="58.9" font-size="11.5" fill="#f0f0f0">0.7 nm</text>
<path d="M476.3,70.2 H480" stroke="#eee" stroke-width="0.9"/><path d="M484.5,70.2 L479.5,68 L479.5,72.4 Z" fill="#fff"/>
<path d="M494.5,70.2 H492" stroke="#eee" stroke-width="0.9"/><path d="M488.9,70.2 L493.5,68 L493.5,72.4 Z" fill="#fff"/>
<path d="M485.7,65 V90 M487.6,65 V90" stroke="#ddd" stroke-width="0.7"/>
<text x="2.50" y="186.50" font-size="14" text-anchor="start" fill="#2a2a2a">(c)</text>
<rect x="73.00" y="193.80" width="173.00" height="126.40" fill="none" stroke="#303030" stroke-width="1.15"/>
<line x1="73.00" y1="197.80" x2="76.00" y2="197.80" stroke="#303030" stroke-width="1.0"/>
<line x1="73.00" y1="212.97" x2="75.00" y2="212.97" stroke="#303030" stroke-width="1.0"/>
<line x1="73.00" y1="228.15" x2="76.00" y2="228.15" stroke="#303030" stroke-width="1.0"/>
<line x1="73.00" y1="243.32" x2="75.00" y2="243.32" stroke="#303030" stroke-width="1.0"/>
<line x1="73.00" y1="258.50" x2="76.00" y2="258.50" stroke="#303030" stroke-width="1.0"/>
<line x1="73.00" y1="273.68" x2="75.00" y2="273.68" stroke="#303030" stroke-width="1.0"/>
<line x1="73.00" y1="288.85" x2="76.00" y2="288.85" stroke="#303030" stroke-width="1.0"/>
<line x1="73.00" y1="304.02" x2="75.00" y2="304.02" stroke="#303030" stroke-width="1.0"/>
<line x1="73.00" y1="319.20" x2="76.00" y2="319.20" stroke="#303030" stroke-width="1.0"/>
<line x1="77.20" y1="320.20" x2="77.20" y2="317.20" stroke="#303030" stroke-width="1.0"/>
<line x1="97.75" y1="320.20" x2="97.75" y2="318.20" stroke="#303030" stroke-width="1.0"/>
<line x1="118.30" y1="320.20" x2="118.30" y2="317.20" stroke="#303030" stroke-width="1.0"/>
<line x1="138.85" y1="320.20" x2="138.85" y2="318.20" stroke="#303030" stroke-width="1.0"/>
<line x1="159.40" y1="320.20" x2="159.40" y2="317.20" stroke="#303030" stroke-width="1.0"/>
<line x1="179.95" y1="320.20" x2="179.95" y2="318.20" stroke="#303030" stroke-width="1.0"/>
<line x1="200.50" y1="320.20" x2="200.50" y2="317.20" stroke="#303030" stroke-width="1.0"/>
<line x1="221.05" y1="320.20" x2="221.05" y2="318.20" stroke="#303030" stroke-width="1.0"/>
<line x1="241.60" y1="320.20" x2="241.60" y2="317.20" stroke="#303030" stroke-width="1.0"/>
<text x="67.80" y="201.40" font-size="13.5" text-anchor="end" fill="#2a2a2a">0.30</text>
<text x="67.80" y="232.00" font-size="13.5" text-anchor="end" fill="#2a2a2a">0.15</text>
<text x="67.80" y="262.50" font-size="13.5" text-anchor="end" fill="#2a2a2a">0.00</text>
<text x="67.80" y="293.60" font-size="13.5" text-anchor="end" fill="#2a2a2a">-0.15</text>
<text x="67.80" y="324.60" font-size="13.5" text-anchor="end" fill="#2a2a2a">-0.30</text>
<text x="77.20" y="333.50" font-size="13.5" text-anchor="middle" fill="#2a2a2a">0.0</text>
<text x="118.30" y="333.50" font-size="13.5" text-anchor="middle" fill="#2a2a2a">0.2</text>
<text x="159.40" y="333.50" font-size="13.5" text-anchor="middle" fill="#2a2a2a">0.4</text>
<text x="200.50" y="333.50" font-size="13.5" text-anchor="middle" fill="#2a2a2a">0.6</text>
<text x="241.60" y="333.50" font-size="13.5" text-anchor="middle" fill="#2a2a2a">0.8</text>
<text x="159.40" y="350.70" font-size="13.7" text-anchor="middle" fill="#2a2a2a">Voltage (V)</text>
<text x="0.00" y="0.00" font-size="13" text-anchor="middle" fill="#2a2a2a" transform="translate(30.20,249.60) rotate(-90)">Current (mA/cm<tspan dy="-5" font-size="8.8">2</tspan><tspan dy="5">)</tspan></text>
<line x1="81.00" y1="200.50" x2="94.80" y2="200.50" stroke="#1e1e1e" stroke-width="1.3"/>
<text x="131.60" y="204.10" font-size="10.7" text-anchor="end" fill="#2a2a2a">5 mV</text>
<line x1="81.00" y1="212.75" x2="94.80" y2="212.75" stroke="#e8262a" stroke-width="1.3"/>
<text x="131.60" y="216.35" font-size="10.7" text-anchor="end" fill="#2a2a2a">10 mV</text>
<line x1="81.00" y1="225.00" x2="94.80" y2="225.00" stroke="#2a2ae0" stroke-width="1.3"/>
<text x="131.60" y="228.60" font-size="10.7" text-anchor="end" fill="#2a2a2a">20 mV</text>
<line x1="81.00" y1="237.25" x2="94.80" y2="237.25" stroke="#27a3a0" stroke-width="1.3"/>
<text x="131.60" y="240.85" font-size="10.7" text-anchor="end" fill="#2a2a2a">50 mV</text>
<path d="M77.50,272.30 C77.75,271.50 78.00,269.17 79.00,267.50 C80.00,265.83 80.97,264.13 83.50,262.30 C86.03,260.47 89.73,258.02 94.20,256.50 C98.67,254.98 105.20,254.08 110.30,253.20 C115.40,252.32 119.85,251.90 124.80,251.20 C129.75,250.50 134.13,249.78 140.00,249.00 C145.87,248.22 153.98,247.20 160.00,246.50 C166.02,245.80 169.38,245.17 176.10,244.80 C182.82,244.43 192.65,244.38 200.30,244.30 C207.95,244.22 215.30,244.25 222.00,244.30 C228.70,244.35 237.20,244.23 240.50,244.60 C243.80,244.97 242.13,245.52 241.80,246.50 C241.47,247.48 240.85,248.90 238.50,250.50 C236.15,252.10 233.25,254.22 227.70,256.10 C222.15,257.98 211.75,260.45 205.20,261.80 C198.65,263.15 195.23,263.48 188.40,264.20 C181.57,264.92 172.27,265.30 164.20,266.10 C156.13,266.90 146.28,268.38 140.00,269.00 C133.72,269.62 132.78,269.42 126.50,269.80 C120.22,270.18 110.47,270.88 102.30,271.30 C94.13,271.72 81.63,272.13 77.50,272.30" fill="none" stroke="#1e1e1e" stroke-width="1.05" stroke-linejoin="round"/>
<path d="M77.30,280.80 C77.37,279.90 76.88,277.05 77.70,275.40 C78.52,273.75 80.25,272.80 82.20,270.90 C84.15,269.00 86.05,266.32 89.40,264.00 C92.75,261.68 96.40,259.13 102.30,257.00 C108.20,254.87 118.52,252.78 124.80,251.20 C131.08,249.62 134.13,248.97 140.00,247.50 C145.87,246.03 153.98,243.88 160.00,242.40 C166.02,240.92 170.72,239.47 176.10,238.60 C181.48,237.73 185.57,237.50 192.30,237.20 C199.03,236.90 208.38,236.90 216.50,236.80 C224.62,236.70 236.92,235.87 241.00,236.60 C245.08,237.33 241.60,239.58 241.00,241.20 C240.40,242.82 239.62,244.38 237.40,246.30 C235.18,248.22 232.53,250.32 227.70,252.70 C222.87,255.08 214.95,258.37 208.40,260.60 C201.85,262.83 193.97,264.53 188.40,266.10 C182.83,267.67 181.95,268.75 175.00,270.00 C168.05,271.25 154.40,272.55 146.70,273.60 C139.00,274.65 134.78,275.40 128.80,276.30 C122.82,277.20 116.78,278.40 110.80,279.00 C104.82,279.60 98.48,279.60 92.90,279.90 C87.32,280.20 79.90,280.65 77.30,280.80" fill="none" stroke="#e8262a" stroke-width="1.05" stroke-linejoin="round"/>
<path d="M77.50,292.40 C77.62,291.50 77.42,289.23 78.20,287.00 C78.98,284.77 80.35,281.53 82.20,279.00 C84.05,276.47 85.95,274.80 89.30,271.80 C92.65,268.80 96.38,264.43 102.30,261.00 C108.22,257.57 118.52,253.78 124.80,251.20 C131.08,248.62 135.15,247.40 140.00,245.50 C144.85,243.60 148.42,242.17 153.90,239.80 C159.38,237.43 167.58,233.27 172.90,231.30 C178.22,229.33 181.23,228.92 185.80,228.00 C190.37,227.08 195.18,226.27 200.30,225.80 C205.42,225.33 209.63,225.38 216.50,225.20 C223.37,225.02 237.48,223.58 241.50,224.70 C245.52,225.82 241.28,229.35 240.60,231.90 C239.92,234.45 239.00,237.30 237.40,240.00 C235.80,242.70 234.22,245.28 231.00,248.10 C227.78,250.92 222.68,254.38 218.10,256.90 C213.52,259.42 208.45,261.27 203.50,263.20 C198.55,265.13 193.15,266.62 188.40,268.50 C183.65,270.38 178.97,273.05 175.00,274.50 C171.03,275.95 169.32,276.15 164.60,277.20 C159.88,278.25 152.67,279.62 146.70,280.80 C140.73,281.98 134.78,283.27 128.80,284.30 C122.82,285.33 116.78,286.10 110.80,287.00 C104.82,287.90 98.45,288.80 92.90,289.70 C87.35,290.60 80.07,291.95 77.50,292.40" fill="none" stroke="#2a2ae0" stroke-width="1.05" stroke-linejoin="round"/>
<path d="M77.70,313.00 C77.85,310.92 77.55,304.68 78.60,300.50 C79.65,296.32 81.62,291.78 84.00,287.90 C86.38,284.02 89.92,280.18 92.90,277.20 C95.88,274.22 96.58,274.33 101.90,270.00 C107.22,265.67 118.55,256.12 124.80,251.20 C131.05,246.28 133.53,244.38 139.40,240.50 C145.27,236.62 153.88,231.88 160.00,227.90 C166.12,223.92 171.27,219.68 176.10,216.60 C180.93,213.52 184.70,211.60 189.00,209.40 C193.30,207.20 197.60,204.93 201.90,203.40 C206.20,201.87 210.50,200.95 214.80,200.20 C219.10,199.45 223.25,199.25 227.70,198.90 C232.15,198.55 239.30,197.17 241.50,198.10 C243.70,199.03 241.45,201.35 240.90,204.50 C240.35,207.65 239.52,212.58 238.20,217.00 C236.88,221.42 235.28,226.08 233.00,231.00 C230.72,235.92 227.80,242.13 224.50,246.50 C221.20,250.87 216.53,254.52 213.20,257.20 C209.87,259.88 208.63,260.03 204.50,262.60 C200.37,265.17 193.32,269.43 188.40,272.60 C183.48,275.77 178.97,279.05 175.00,281.60 C171.03,284.15 168.42,285.80 164.60,287.90 C160.78,290.00 156.58,292.25 152.10,294.20 C147.62,296.15 143.08,297.97 137.70,299.60 C132.32,301.23 125.77,302.67 119.80,304.00 C113.83,305.33 107.57,306.45 101.90,307.60 C96.23,308.75 89.83,310.00 85.80,310.90 C81.77,311.80 79.05,312.65 77.70,313.00" fill="none" stroke="#27a3a0" stroke-width="1.05" stroke-linejoin="round"/>
<text x="302.10" y="186.50" font-size="14" text-anchor="start" fill="#2a2a2a">(d)</text>
<rect x="364.00" y="193.60" width="172.60" height="126.60" fill="none" stroke="#303030" stroke-width="1.15"/>
<line x1="364.00" y1="319.60" x2="367.00" y2="319.60" stroke="#303030" stroke-width="1.0"/>
<line x1="364.00" y1="300.57" x2="366.00" y2="300.57" stroke="#303030" stroke-width="1.0"/>
<line x1="364.00" y1="281.53" x2="367.00" y2="281.53" stroke="#303030" stroke-width="1.0"/>
<line x1="364.00" y1="262.50" x2="366.00" y2="262.50" stroke="#303030" stroke-width="1.0"/>
<line x1="364.00" y1="243.47" x2="367.00" y2="243.47" stroke="#303030" stroke-width="1.0"/>
<line x1="364.00" y1="224.43" x2="366.00" y2="224.43" stroke="#303030" stroke-width="1.0"/>
<line x1="364.00" y1="205.40" x2="367.00" y2="205.40" stroke="#303030" stroke-width="1.0"/>
<line x1="366.50" y1="320.20" x2="366.50" y2="317.20" stroke="#303030" stroke-width="1.0"/>
<line x1="387.62" y1="320.20" x2="387.62" y2="318.20" stroke="#303030" stroke-width="1.0"/>
<line x1="408.73" y1="320.20" x2="408.73" y2="317.20" stroke="#303030" stroke-width="1.0"/>
<line x1="429.85" y1="320.20" x2="429.85" y2="318.20" stroke="#303030" stroke-width="1.0"/>
<line x1="450.96" y1="320.20" x2="450.96" y2="317.20" stroke="#303030" stroke-width="1.0"/>
<line x1="472.07" y1="320.20" x2="472.07" y2="318.20" stroke="#303030" stroke-width="1.0"/>
<line x1="493.19" y1="320.20" x2="493.19" y2="317.20" stroke="#303030" stroke-width="1.0"/>
<line x1="514.31" y1="320.20" x2="514.31" y2="318.20" stroke="#303030" stroke-width="1.0"/>
<line x1="535.42" y1="320.20" x2="535.42" y2="317.20" stroke="#303030" stroke-width="1.0"/>
<text x="357.60" y="323.90" font-size="13.5" text-anchor="end" fill="#2a2a2a">0.0</text>
<text x="357.60" y="285.30" font-size="13.5" text-anchor="end" fill="#2a2a2a">0.3</text>
<text x="357.60" y="247.80" font-size="13.5" text-anchor="end" fill="#2a2a2a">0.6</text>
<text x="357.60" y="209.80" font-size="13.5" text-anchor="end" fill="#2a2a2a">0.9</text>
<text x="368.00" y="333.30" font-size="13.5" text-anchor="middle" fill="#2a2a2a">0</text>
<text x="414.10" y="333.30" font-size="13.5" text-anchor="middle" fill="#2a2a2a">100</text>
<text x="457.10" y="333.30" font-size="13.5" text-anchor="middle" fill="#2a2a2a">200</text>
<text x="499.20" y="333.30" font-size="13.5" text-anchor="middle" fill="#2a2a2a">300</text>
<text x="541.80" y="333.30" font-size="13.5" text-anchor="middle" fill="#2a2a2a">400</text>
<text x="462.80" y="351.30" font-size="14" text-anchor="middle" fill="#2a2a2a">Time&#160;&#160;( S)</text>
<text x="0.00" y="0.00" font-size="14" text-anchor="middle" fill="#2a2a2a" transform="translate(324.50,260.30) rotate(-90)">Voltage (V)</text>
<line x1="366.70" y1="199.40" x2="380.80" y2="199.40" stroke="#1a1a1a" stroke-width="1.3"/>
<text x="388.30" y="204.10" font-size="10.8" text-anchor="start" fill="#2a2a2a">20 μA/cm<tspan dy="-4" font-size="7.5">2</tspan></text>
<line x1="366.70" y1="212.90" x2="380.80" y2="212.90" stroke="#2525d8" stroke-width="1.3"/>
<text x="383.60" y="216.60" font-size="10.8" text-anchor="start" fill="#2a2a2a">100 μA/cm<tspan dy="-4" font-size="7.5">2</tspan></text>
<line x1="454.40" y1="199.50" x2="467.90" y2="199.50" stroke="#e8302a" stroke-width="1.3"/>
<text x="477.00" y="203.80" font-size="10.8" text-anchor="start" fill="#2a2a2a">50 μA/cm<tspan dy="-4" font-size="7.5">2</tspan></text>
<line x1="454.40" y1="212.20" x2="467.90" y2="212.20" stroke="#2a9a98" stroke-width="1.3"/>
<text x="471.30" y="216.30" font-size="10.8" text-anchor="start" fill="#2a2a2a">200 μA/cm<tspan dy="-4" font-size="7.5">2</tspan></text>
<path d="M365.75,319.40 L368.00,219.10 L369.90,319.40" fill="none" stroke="#2a9a98" stroke-width="1.2" stroke-linejoin="round"/>
<path d="M365.40,319.40 C365.60,316.17 365.98,309.07 366.60,300.00 C367.22,290.93 367.83,278.48 369.10,265.00 C370.37,251.52 373.35,226.75 374.20,219.10" fill="none" stroke="#2525d8" stroke-width="1.2" stroke-linejoin="round"/>
<path d="M374.20,219.10 L376.10,265.00 L378.00,295.00 L379.80,319.40" fill="none" stroke="#2525d8" stroke-width="1.2" stroke-linejoin="round"/>
<path d="M365.40,319.20 C365.77,316.42 365.98,310.60 367.60,302.50 C369.22,294.40 372.28,280.28 375.10,270.60 C377.92,260.92 381.43,252.98 384.50,244.40 C387.57,235.82 392.00,223.32 393.50,219.10" fill="none" stroke="#e8302a" stroke-width="1.2" stroke-linejoin="round"/>
<path d="M393.50,219.10 C393.88,223.63 394.80,237.08 395.80,246.30 C396.80,255.52 397.95,265.97 399.50,274.40 C401.05,282.83 403.07,289.40 405.10,296.90 C407.13,304.40 410.60,315.65 411.70,319.40" fill="none" stroke="#e8302a" stroke-width="1.2" stroke-linejoin="round"/>
<path d="M364.80,319.20 C364.93,318.17 364.82,315.47 365.60,313.00 C366.38,310.53 367.60,307.08 369.50,304.40 C371.40,301.72 372.00,301.58 377.00,296.90 C382.00,292.22 391.68,283.18 399.50,276.30 C407.32,269.42 417.15,261.35 423.90,255.60 C430.65,249.85 435.20,245.87 440.00,241.80 C444.80,237.73 449.18,234.02 452.70,231.20 C456.22,228.38 458.22,226.90 461.10,224.90 C463.98,222.90 468.52,220.15 470.00,219.20" fill="none" stroke="#1a1a1a" stroke-width="1.2" stroke-linejoin="round"/>
<path d="M470.00,219.20 C470.22,220.67 470.67,224.05 471.30,228.00 C471.93,231.95 472.50,237.95 473.80,242.90 C475.10,247.85 476.63,252.42 479.10,257.70 C481.57,262.98 484.90,268.97 488.60,274.60 C492.30,280.23 497.42,286.22 501.30,291.50 C505.18,296.78 508.72,302.42 511.90,306.30 C515.08,310.18 517.58,312.75 520.40,314.80 C523.22,316.85 526.17,317.83 528.80,318.60 C531.43,319.37 534.97,319.27 536.20,319.40" fill="none" stroke="#1a1a1a" stroke-width="1.2" stroke-linejoin="round"/>
<text x="2.40" y="361.50" font-size="14" text-anchor="start" fill="#2a2a2a">(e)</text>
<rect x="72.70" y="372.20" width="172.30" height="126.70" fill="none" stroke="#303030" stroke-width="1.15"/>
<line x1="72.70" y1="498.90" x2="75.70" y2="498.90" stroke="#303030" stroke-width="1.0"/>
<line x1="72.70" y1="486.20" x2="74.70" y2="486.20" stroke="#303030" stroke-width="1.0"/>
<line x1="72.70" y1="473.50" x2="75.70" y2="473.50" stroke="#303030" stroke-width="1.0"/>
<line x1="72.70" y1="460.80" x2="74.70" y2="460.80" stroke="#303030" stroke-width="1.0"/>
<line x1="72.70" y1="448.10" x2="75.70" y2="448.10" stroke="#303030" stroke-width="1.0"/>
<line x1="72.70" y1="435.40" x2="74.70" y2="435.40" stroke="#303030" stroke-width="1.0"/>
<line x1="72.70" y1="422.70" x2="75.70" y2="422.70" stroke="#303030" stroke-width="1.0"/>
<line x1="72.70" y1="410.00" x2="74.70" y2="410.00" stroke="#303030" stroke-width="1.0"/>
<line x1="72.70" y1="397.30" x2="75.70" y2="397.30" stroke="#303030" stroke-width="1.0"/>
<line x1="72.70" y1="384.60" x2="74.70" y2="384.60" stroke="#303030" stroke-width="1.0"/>
<line x1="72.70" y1="371.90" x2="75.70" y2="371.90" stroke="#303030" stroke-width="1.0"/>
<line x1="245.00" y1="499.00" x2="242.00" y2="499.00" stroke="#303030" stroke-width="1.0"/>
<line x1="245.00" y1="481.90" x2="243.00" y2="481.90" stroke="#303030" stroke-width="1.0"/>
<line x1="245.00" y1="464.80" x2="242.00" y2="464.80" stroke="#303030" stroke-width="1.0"/>
<line x1="245.00" y1="447.70" x2="243.00" y2="447.70" stroke="#303030" stroke-width="1.0"/>
<line x1="245.00" y1="430.60" x2="242.00" y2="430.60" stroke="#303030" stroke-width="1.0"/>
<line x1="245.00" y1="413.50" x2="243.00" y2="413.50" stroke="#303030" stroke-width="1.0"/>
<line x1="245.00" y1="396.40" x2="242.00" y2="396.40" stroke="#303030" stroke-width="1.0"/>
<line x1="245.00" y1="379.30" x2="243.00" y2="379.30" stroke="#303030" stroke-width="1.0"/>
<line x1="76.20" y1="498.90" x2="76.20" y2="495.90" stroke="#303030" stroke-width="1.0"/>
<line x1="92.80" y1="498.90" x2="92.80" y2="496.90" stroke="#303030" stroke-width="1.0"/>
<line x1="109.40" y1="498.90" x2="109.40" y2="495.90" stroke="#303030" stroke-width="1.0"/>
<line x1="126.00" y1="498.90" x2="126.00" y2="496.90" stroke="#303030" stroke-width="1.0"/>
<line x1="142.60" y1="498.90" x2="142.60" y2="495.90" stroke="#303030" stroke-width="1.0"/>
<line x1="159.20" y1="498.90" x2="159.20" y2="496.90" stroke="#303030" stroke-width="1.0"/>
<line x1="175.80" y1="498.90" x2="175.80" y2="495.90" stroke="#303030" stroke-width="1.0"/>
<line x1="192.40" y1="498.90" x2="192.40" y2="496.90" stroke="#303030" stroke-width="1.0"/>
<line x1="209.00" y1="498.90" x2="209.00" y2="495.90" stroke="#303030" stroke-width="1.0"/>
<line x1="225.60" y1="498.90" x2="225.60" y2="496.90" stroke="#303030" stroke-width="1.0"/>
<line x1="242.20" y1="498.90" x2="242.20" y2="495.90" stroke="#303030" stroke-width="1.0"/>
<text x="66.00" y="503.90" font-size="13.5" text-anchor="end" fill="#2a2a2a">0</text>
<text x="66.00" y="478.50" font-size="13.5" text-anchor="end" fill="#2a2a2a">25</text>
<text x="66.00" y="453.10" font-size="13.5" text-anchor="end" fill="#2a2a2a">50</text>
<text x="66.00" y="427.70" font-size="13.5" text-anchor="end" fill="#2a2a2a">75</text>
<text x="66.00" y="402.30" font-size="13.5" text-anchor="end" fill="#2a2a2a">100</text>
<text x="66.00" y="376.90" font-size="13.5" text-anchor="end" fill="#2a2a2a">125</text>
<text x="248.30" y="501.40" font-size="13.5" text-anchor="start" fill="#2a2a2a">0</text>
<text x="248.30" y="470.30" font-size="13.5" text-anchor="start" fill="#2a2a2a">20</text>
<text x="248.30" y="436.30" font-size="13.5" text-anchor="start" fill="#2a2a2a">40</text>
<text x="248.30" y="402.30" font-size="13.5" text-anchor="start" fill="#2a2a2a">60</text>
<text x="75.10" y="514.00" font-size="13.5" text-anchor="middle" fill="#2a2a2a">0</text>
<text x="111.00" y="514.00" font-size="13.5" text-anchor="middle" fill="#2a2a2a">200</text>
<text x="144.80" y="514.00" font-size="13.5" text-anchor="middle" fill="#2a2a2a">400</text>
<text x="178.20" y="514.00" font-size="13.5" text-anchor="middle" fill="#2a2a2a">600</text>
<text x="211.80" y="514.00" font-size="13.5" text-anchor="middle" fill="#2a2a2a">800</text>
<text x="248.00" y="514.00" font-size="13.5" text-anchor="middle" fill="#2a2a2a">1000</text>
<text x="168.00" y="530.00" font-size="14" text-anchor="middle" fill="#2a2a2a">Cycle number</text>
<text x="0.00" y="0.00" font-size="14" text-anchor="middle" fill="#2a2a2a" transform="translate(30.30,433.20) rotate(-90)">Retention (%)</text>
<text x="0.00" y="0.00" font-size="13.5" text-anchor="middle" fill="#2a2a2a" transform="translate(280.20,436.30) rotate(-90)">Coulombic efficiency (%)</text>
<rect x="112.6" y="420.8" width="114.80000000000001" height="60.39999999999998" fill="#fff" stroke="#303030" stroke-width="1.2"/>
<path d="M113.30,442.60 C114.10,439.60 114.60,428.60 116.10,427.60 C117.00,441.60 118.29,468.60 118.79,480.60 C119.19,466.60 119.89,433.60 121.48,427.60 C122.39,441.60 123.68,468.60 124.18,480.60 C124.58,466.60 125.27,433.60 126.87,427.60 C127.77,441.60 129.06,468.60 129.56,480.60 C129.96,466.60 130.66,433.60 132.25,427.60 C133.16,441.60 134.45,468.60 134.95,480.60 C135.35,466.60 136.04,433.60 137.64,427.60 C138.54,441.60 139.83,468.60 140.33,480.60 C140.73,466.60 141.42,433.60 143.02,427.60 C143.92,441.60 145.22,468.60 145.72,480.60 C146.12,466.60 146.81,433.60 148.41,427.60 C149.31,441.60 150.60,468.60 151.10,480.60 C151.50,466.60 152.19,433.60 153.79,427.60 C154.69,441.60 155.99,468.60 156.49,480.60 C156.89,466.60 157.58,433.60 159.18,427.60 C160.08,441.60 161.37,468.60 161.87,480.60 C162.27,466.60 162.97,433.60 164.56,427.60 C165.47,441.60 166.76,468.60 167.26,480.60 C167.66,466.60 168.35,433.60 169.95,427.60 C170.85,441.60 172.14,468.60 172.64,480.60 C173.04,466.60 173.73,433.60 175.33,427.60 C176.23,441.60 177.53,468.60 178.03,480.60 C178.43,466.60 179.12,433.60 180.72,427.60 C181.62,441.60 182.91,468.60 183.41,480.60 C183.81,466.60 184.50,433.60 186.10,427.60 C187.00,441.60 188.30,468.60 188.80,480.60 C189.20,466.60 189.89,433.60 191.49,427.60 C192.39,441.60 193.68,468.60 194.18,480.60 C194.58,466.60 195.28,433.60 196.88,427.60 C197.78,441.60 199.07,468.60 199.57,480.60 C199.97,466.60 200.66,433.60 202.26,427.60 C203.16,441.60 204.45,468.60 204.95,480.60 C205.35,466.60 206.04,433.60 207.64,427.60 C208.54,441.60 209.84,468.60 210.34,480.60 C210.74,466.60 211.43,433.60 213.03,427.60 C213.93,441.60 215.22,468.60 215.72,480.60 C216.12,466.60 216.81,433.60 218.41,427.60 C219.31,441.60 220.61,468.60 221.11,480.60 C221.51,466.60 222.20,433.60 223.80,427.60 C224.70,441.60 225.99,468.60 226.49,480.60 C226.89,470.60 226.40,460.60 226.80,454.60" fill="none" stroke="#1a1a1a" stroke-width="1.1"/>
<text x="109.00" y="483.90" font-size="9" text-anchor="end" fill="#2a2a2a">0.0</text>
<line x1="112.60" y1="480.70" x2="114.60" y2="480.70" stroke="#303030" stroke-width="1.0"/>
<text x="109.00" y="457.25" font-size="9" text-anchor="end" fill="#2a2a2a">0.4</text>
<line x1="112.60" y1="454.05" x2="114.60" y2="454.05" stroke="#303030" stroke-width="1.0"/>
<text x="109.00" y="430.60" font-size="9" text-anchor="end" fill="#2a2a2a">0.8</text>
<line x1="112.60" y1="427.40" x2="114.60" y2="427.40" stroke="#303030" stroke-width="1.0"/>
<text x="141.80" y="489.80" font-size="9" text-anchor="middle" fill="#2a2a2a">29000</text>
<text x="220.50" y="489.80" font-size="9" text-anchor="middle" fill="#2a2a2a">30000</text>
<text x="179.10" y="493.20" font-size="9" text-anchor="middle" fill="#2a2a2a">Time (s)</text>
<text x="0.00" y="0.00" font-size="9" text-anchor="middle" fill="#2a2a2a" transform="translate(89.30,450.40) rotate(-90)">Voltage (V)</text>
<path d="M75.90,397.60 L84.20,377.90 L92.50,377.90 L100.80,382.40 L109.10,390.40 L117.40,394.60 L125.70,393.10 L134.00,400.80 L142.30,404.40 L150.60,405.30 L158.90,406.60 L167.20,407.10 L175.50,410.70 L183.80,407.50 L192.10,411.60 L200.40,414.30 L208.70,415.70 L217.00,416.10 L225.30,417.30 L233.60,415.20 L241.90,417.50" fill="none" stroke="#111" stroke-width="1.0" stroke-linejoin="round"/>
<rect x="73.90" y="395.60" width="4" height="4" fill="#111"/>
<rect x="82.20" y="375.90" width="4" height="4" fill="#111"/>
<rect x="90.50" y="375.90" width="4" height="4" fill="#111"/>
<rect x="98.80" y="380.40" width="4" height="4" fill="#111"/>
<rect x="107.10" y="388.40" width="4" height="4" fill="#111"/>
<rect x="115.40" y="392.60" width="4" height="4" fill="#111"/>
<rect x="123.70" y="391.10" width="4" height="4" fill="#111"/>
<rect x="132.00" y="398.80" width="4" height="4" fill="#111"/>
<rect x="140.30" y="402.40" width="4" height="4" fill="#111"/>
<rect x="148.60" y="403.30" width="4" height="4" fill="#111"/>
<rect x="156.90" y="404.60" width="4" height="4" fill="#111"/>
<rect x="165.20" y="405.10" width="4" height="4" fill="#111"/>
<rect x="173.50" y="408.70" width="4" height="4" fill="#111"/>
<rect x="181.80" y="405.50" width="4" height="4" fill="#111"/>
<rect x="190.10" y="409.60" width="4" height="4" fill="#111"/>
<rect x="198.40" y="412.30" width="4" height="4" fill="#111"/>
<rect x="206.70" y="413.70" width="4" height="4" fill="#111"/>
<rect x="215.00" y="414.10" width="4" height="4" fill="#111"/>
<rect x="223.30" y="415.30" width="4" height="4" fill="#111"/>
<rect x="231.60" y="413.20" width="4" height="4" fill="#111"/>
<rect x="239.90" y="415.50" width="4" height="4" fill="#111"/>
<path d="M75.90,388.30 L84.20,382.00 L92.50,388.30 L100.80,392.20 L109.10,387.40 L117.40,394.60 L125.70,387.90 L134.00,391.50 L142.30,385.10 L150.60,385.10 L158.90,385.10 L167.20,388.30 L175.50,385.10 L183.80,390.40 L192.10,390.40 L200.40,386.90 L208.70,383.30 L217.00,386.10 L225.30,387.40 L233.60,386.10 L241.90,388.30" fill="none" stroke="#333" stroke-width="0.9" stroke-linejoin="round"/>
<circle cx="75.90" cy="388.30" r="1.8" fill="#fff" stroke="#444" stroke-width="0.8"/>
<circle cx="84.20" cy="382.00" r="1.8" fill="#fff" stroke="#444" stroke-width="0.8"/>
<circle cx="92.50" cy="388.30" r="1.8" fill="#fff" stroke="#444" stroke-width="0.8"/>
<circle cx="100.80" cy="392.20" r="1.8" fill="#fff" stroke="#444" stroke-width="0.8"/>
<circle cx="109.10" cy="387.40" r="1.8" fill="#fff" stroke="#444" stroke-width="0.8"/>
<circle cx="117.40" cy="394.60" r="1.8" fill="#fff" stroke="#444" stroke-width="0.8"/>
<circle cx="125.70" cy="387.90" r="1.8" fill="#fff" stroke="#444" stroke-width="0.8"/>
<circle cx="134.00" cy="391.50" r="1.8" fill="#fff" stroke="#444" stroke-width="0.8"/>
<circle cx="142.30" cy="385.10" r="1.8" fill="#fff" stroke="#444" stroke-width="0.8"/>
<circle cx="150.60" cy="385.10" r="1.8" fill="#fff" stroke="#444" stroke-width="0.8"/>
<circle cx="158.90" cy="385.10" r="1.8" fill="#fff" stroke="#444" stroke-width="0.8"/>
<circle cx="167.20" cy="388.30" r="1.8" fill="#fff" stroke="#444" stroke-width="0.8"/>
<circle cx="175.50" cy="385.10" r="1.8" fill="#fff" stroke="#444" stroke-width="0.8"/>
<circle cx="183.80" cy="390.40" r="1.8" fill="#fff" stroke="#444" stroke-width="0.8"/>
<circle cx="192.10" cy="390.40" r="1.8" fill="#fff" stroke="#444" stroke-width="0.8"/>
<circle cx="200.40" cy="386.90" r="1.8" fill="#fff" stroke="#444" stroke-width="0.8"/>
<circle cx="208.70" cy="383.30" r="1.8" fill="#fff" stroke="#444" stroke-width="0.8"/>
<circle cx="217.00" cy="386.10" r="1.8" fill="#fff" stroke="#444" stroke-width="0.8"/>
<circle cx="225.30" cy="387.40" r="1.8" fill="#fff" stroke="#444" stroke-width="0.8"/>
<circle cx="233.60" cy="386.10" r="1.8" fill="#fff" stroke="#444" stroke-width="0.8"/>
<circle cx="241.90" cy="388.30" r="1.8" fill="#fff" stroke="#444" stroke-width="0.8"/>
<path d="M127.50,393.10 L127.50,407.50 L87.00,407.50" fill="none" stroke="#111" stroke-width="1.1" stroke-linejoin="round"/>
<path d="M79.9,407.5 L88.2,404.6 L88.2,410.4 Z" fill="#111"/>
<path d="M217.50,386.10 L217.50,401.70 L232.00,401.70" fill="none" stroke="#111" stroke-width="1.1" stroke-linejoin="round"/>
<path d="M239.9,401.7 L231.6,398.9 L231.6,404.5 Z" fill="#111"/>
<text x="304.30" y="362.20" font-size="14" text-anchor="start" fill="#2a2a2a">(f)</text>
<rect x="364.40" y="371.20" width="173.00" height="127.20" fill="none" stroke="#303030" stroke-width="1.15"/>
<line x1="364.40" y1="498.30" x2="367.40" y2="498.30" stroke="#303030" stroke-width="1.0"/>
<line x1="364.40" y1="485.55" x2="366.20" y2="485.55" stroke="#303030" stroke-width="1.0"/>
<line x1="364.40" y1="478.09" x2="366.20" y2="478.09" stroke="#303030" stroke-width="1.0"/>
<line x1="364.40" y1="472.80" x2="366.20" y2="472.80" stroke="#303030" stroke-width="1.0"/>
<line x1="364.40" y1="468.70" x2="366.20" y2="468.70" stroke="#303030" stroke-width="1.0"/>
<line x1="364.40" y1="465.35" x2="366.20" y2="465.35" stroke="#303030" stroke-width="1.0"/>
<line x1="364.40" y1="462.51" x2="366.20" y2="462.51" stroke="#303030" stroke-width="1.0"/>
<line x1="364.40" y1="460.05" x2="366.20" y2="460.05" stroke="#303030" stroke-width="1.0"/>
<line x1="364.40" y1="457.89" x2="366.20" y2="457.89" stroke="#303030" stroke-width="1.0"/>
<line x1="364.40" y1="455.95" x2="367.40" y2="455.95" stroke="#303030" stroke-width="1.0"/>
<line x1="364.40" y1="443.20" x2="366.20" y2="443.20" stroke="#303030" stroke-width="1.0"/>
<line x1="364.40" y1="435.74" x2="366.20" y2="435.74" stroke="#303030" stroke-width="1.0"/>
<line x1="364.40" y1="430.45" x2="366.20" y2="430.45" stroke="#303030" stroke-width="1.0"/>
<line x1="364.40" y1="426.35" x2="366.20" y2="426.35" stroke="#303030" stroke-width="1.0"/>
<line x1="364.40" y1="423.00" x2="366.20" y2="423.00" stroke="#303030" stroke-width="1.0"/>
<line x1="364.40" y1="420.16" x2="366.20" y2="420.16" stroke="#303030" stroke-width="1.0"/>
<line x1="364.40" y1="417.70" x2="366.20" y2="417.70" stroke="#303030" stroke-width="1.0"/>
<line x1="364.40" y1="415.54" x2="366.20" y2="415.54" stroke="#303030" stroke-width="1.0"/>
<line x1="364.40" y1="413.60" x2="367.40" y2="413.60" stroke="#303030" stroke-width="1.0"/>
<line x1="364.40" y1="400.85" x2="366.20" y2="400.85" stroke="#303030" stroke-width="1.0"/>
<line x1="364.40" y1="393.39" x2="366.20" y2="393.39" stroke="#303030" stroke-width="1.0"/>
<line x1="364.40" y1="388.10" x2="366.20" y2="388.10" stroke="#303030" stroke-width="1.0"/>
<line x1="364.40" y1="384.00" x2="366.20" y2="384.00" stroke="#303030" stroke-width="1.0"/>
<line x1="364.40" y1="380.65" x2="366.20" y2="380.65" stroke="#303030" stroke-width="1.0"/>
<line x1="364.40" y1="377.81" x2="366.20" y2="377.81" stroke="#303030" stroke-width="1.0"/>
<line x1="364.40" y1="375.35" x2="366.20" y2="375.35" stroke="#303030" stroke-width="1.0"/>
<line x1="364.40" y1="373.19" x2="366.20" y2="373.19" stroke="#303030" stroke-width="1.0"/>
<line x1="372.91" y1="498.40" x2="372.91" y2="496.60" stroke="#303030" stroke-width="1.0"/>
<line x1="380.56" y1="498.40" x2="380.56" y2="496.60" stroke="#303030" stroke-width="1.0"/>
<line x1="387.40" y1="498.40" x2="387.40" y2="495.40" stroke="#303030" stroke-width="1.0"/>
<line x1="432.40" y1="498.40" x2="432.40" y2="496.60" stroke="#303030" stroke-width="1.0"/>
<line x1="458.73" y1="498.40" x2="458.73" y2="496.60" stroke="#303030" stroke-width="1.0"/>
<line x1="477.41" y1="498.40" x2="477.41" y2="496.60" stroke="#303030" stroke-width="1.0"/>
<line x1="491.90" y1="498.40" x2="491.90" y2="496.60" stroke="#303030" stroke-width="1.0"/>
<line x1="503.73" y1="498.40" x2="503.73" y2="496.60" stroke="#303030" stroke-width="1.0"/>
<line x1="513.74" y1="498.40" x2="513.74" y2="496.60" stroke="#303030" stroke-width="1.0"/>
<line x1="522.41" y1="498.40" x2="522.41" y2="496.60" stroke="#303030" stroke-width="1.0"/>
<line x1="530.06" y1="498.40" x2="530.06" y2="496.60" stroke="#303030" stroke-width="1.0"/>
<line x1="536.90" y1="498.40" x2="536.90" y2="495.40" stroke="#303030" stroke-width="1.0"/>
<text x="350.30" y="376.10" font-size="13.5" text-anchor="end" fill="#2a2a2a">1</text>
<text x="337" y="421.5" font-size="13.5" fill="#2a2a2a">10<tspan dy="-5.2" font-size="8.3">-1</tspan></text>
<text x="337" y="462.6" font-size="13.5" fill="#2a2a2a">10<tspan dy="-5.2" font-size="8.3">-2</tspan></text>
<text x="337" y="502.3" font-size="13.5" fill="#2a2a2a">10<tspan dy="-5.2" font-size="8.3">-3</tspan></text>
<text x="387.20" y="512.80" font-size="13.5" text-anchor="middle" fill="#2a2a2a">10</text>
<text x="537.70" y="512.80" font-size="13.5" text-anchor="middle" fill="#2a2a2a">100</text>
<text x="466" y="530.2" font-size="14" text-anchor="middle" fill="#2a2a2a">Power (mW/cm<tspan dy="-5" font-size="9.5">3</tspan><tspan dy="5">)</tspan></text>
<text transform="translate(323.8,434) rotate(-90)" font-size="14" text-anchor="middle" fill="#2a2a2a">Energy (mWh/cm<tspan dy="-5" font-size="9.5">3</tspan><tspan dy="5">)</tspan></text>
<path d="M372.90,380.30 L432.60,386.00 L477.60,397.00 L522.40,410.20" fill="none" stroke="#111" stroke-width="1.1" stroke-linejoin="round"/>
<path d="M372.90,391.30 L432.60,398.10 L477.60,405.80 L522.40,416.20" fill="none" stroke="#e3262a" stroke-width="1.1" stroke-linejoin="round"/>
<path d="M372.90,395.60 L432.60,405.30 L477.60,415.40 L522.40,438.90" fill="none" stroke="#2020e0" stroke-width="1.1" stroke-linejoin="round"/>
<rect x="370.80" y="378.20" width="4.2" height="4.2" fill="#111"/>
<rect x="430.50" y="383.90" width="4.2" height="4.2" fill="#111"/>
<rect x="475.50" y="394.90" width="4.2" height="4.2" fill="#111"/>
<rect x="520.30" y="408.10" width="4.2" height="4.2" fill="#111"/>
<circle cx="372.90" cy="391.30" r="2.3" fill="#ee1c24"/>
<circle cx="432.60" cy="398.10" r="2.3" fill="#ee1c24"/>
<circle cx="477.60" cy="405.80" r="2.3" fill="#ee1c24"/>
<circle cx="522.40" cy="416.20" r="2.3" fill="#ee1c24"/>
<path d="M370.30,397.60 L375.50,397.60 L372.90,393.00 Z" fill="#1a1ae8"/>
<path d="M430.00,407.30 L435.20,407.30 L432.60,402.70 Z" fill="#1a1ae8"/>
<path d="M475.00,417.40 L480.20,417.40 L477.60,412.80 Z" fill="#1a1ae8"/>
<path d="M519.80,440.90 L525.00,440.90 L522.40,436.30 Z" fill="#1a1ae8"/>
<line x1="495.50" y1="390.40" x2="489.68" y2="393.28" stroke="#111" stroke-width="1.0"/>
<path d="M485.20,395.50 L488.66,391.22 L490.70,395.34 Z" fill="#111"/>
<line x1="500.20" y1="419.60" x2="494.18" y2="414.38" stroke="#111" stroke-width="1.0"/>
<path d="M490.40,411.10 L495.68,412.64 L492.67,416.11 Z" fill="#111"/>
<line x1="506.10" y1="442.50" x2="506.10" y2="440.20" stroke="#111" stroke-width="1.0"/>
<path d="M506.10,435.20 L508.40,440.20 L503.80,440.20 Z" fill="#111"/>
<text x="499.80" y="393.70" font-size="11.2" text-anchor="start" fill="#2a2a2a" textLength="35.3" lengthAdjust="spacingAndGlyphs">300 μm</text>
<text x="499.80" y="425.80" font-size="11.2" text-anchor="start" fill="#2a2a2a" textLength="35.3" lengthAdjust="spacingAndGlyphs">600 μm</text>
<text x="499.30" y="454.20" font-size="11.2" text-anchor="start" fill="#2a2a2a" textLength="35.3" lengthAdjust="spacingAndGlyphs">900 μm</text>
<rect x="403.9" y="424.3" width="82.10000000000002" height="52.19999999999999" fill="#fff" stroke="#303030" stroke-width="1.2"/>
<line x1="403.90" y1="436.40" x2="405.90" y2="436.40" stroke="#303030" stroke-width="1.0"/>
<line x1="403.90" y1="450.30" x2="405.90" y2="450.30" stroke="#303030" stroke-width="1.0"/>
<line x1="403.90" y1="463.70" x2="405.90" y2="463.70" stroke="#303030" stroke-width="1.0"/>
<line x1="423.10" y1="476.50" x2="423.10" y2="474.70" stroke="#303030" stroke-width="1.0"/>
<line x1="442.40" y1="476.50" x2="442.40" y2="474.70" stroke="#303030" stroke-width="1.0"/>
<line x1="462.30" y1="476.50" x2="462.30" y2="474.70" stroke="#303030" stroke-width="1.0"/>
<text x="402.3" y="427.2" font-size="9" text-anchor="end" fill="#2a2a2a">10<tspan dy="-3.5" font-size="6">2</tspan></text>
<text x="402.30" y="440.50" font-size="9" text-anchor="end" fill="#2a2a2a">10</text>
<text x="402.30" y="454.40" font-size="9" text-anchor="end" fill="#2a2a2a">1</text>
<text x="389" y="467.9" font-size="9" fill="#2a2a2a">10<tspan dy="-3.5" font-size="6">-1</tspan></text>
<text x="389" y="481.2" font-size="9" fill="#2a2a2a">10<tspan dy="-3.5" font-size="6">-2</tspan></text>
<text x="404.20" y="484.10" font-size="9" text-anchor="middle" fill="#2a2a2a">0</text>
<text x="442.40" y="484.10" font-size="9" text-anchor="middle" fill="#2a2a2a">100</text>
<text x="482.30" y="484.10" font-size="9" text-anchor="middle" fill="#2a2a2a">200</text>
<text x="447.3" y="493" font-size="8.6" text-anchor="middle" fill="#2a2a2a">Current density (μA/cm<tspan dy="-3" font-size="6">2</tspan><tspan dy="3">)</tspan></text>
<text x="0.00" y="0.00" font-size="8.5" text-anchor="middle" fill="#2a2a2a" transform="translate(376.50,449.60) rotate(-90)">Specific capacitance</text>
<text transform="translate(386.2,449.6) rotate(-90)" font-size="8.5" text-anchor="middle" fill="#2a2a2a">(mF/cm<tspan dy="-3" font-size="6">2</tspan><tspan dy="3">)</tspan></text>
<path d="M412.20,438.90 L423.30,440.80 L442.00,444.00 L479.90,448.40" fill="none" stroke="#111" stroke-width="1.0" stroke-linejoin="round"/>
<path d="M412.20,442.40 L423.30,444.40 L442.00,446.50 L479.90,450.10" fill="none" stroke="#e3262a" stroke-width="1.0" stroke-linejoin="round"/>
<path d="M412.20,443.90 L423.30,447.10 L442.00,450.10 L479.90,457.30" fill="none" stroke="#2020e0" stroke-width="1.0" stroke-linejoin="round"/>
<rect x="411.10" y="437.80" width="2.2" height="2.2" fill="#111"/>
<rect x="422.20" y="439.70" width="2.2" height="2.2" fill="#111"/>
<rect x="440.90" y="442.90" width="2.2" height="2.2" fill="#111"/>
<rect x="478.80" y="447.30" width="2.2" height="2.2" fill="#111"/>
<circle cx="412.20" cy="442.40" r="1.2" fill="#ee1c24"/>
<circle cx="423.30" cy="444.40" r="1.2" fill="#ee1c24"/>
<circle cx="442.00" cy="446.50" r="1.2" fill="#ee1c24"/>
<circle cx="479.90" cy="450.10" r="1.2" fill="#ee1c24"/>
<path d="M410.80,445.00 L413.60,445.00 L412.20,442.50 Z" fill="#1a1ae8"/>
<path d="M421.90,448.20 L424.70,448.20 L423.30,445.70 Z" fill="#1a1ae8"/>
<path d="M440.60,451.20 L443.40,451.20 L442.00,448.70 Z" fill="#1a1ae8"/>
<path d="M478.50,458.40 L481.30,458.40 L479.90,455.90 Z" fill="#1a1ae8"/>
<text x="449.70" y="434.40" font-size="9.4" text-anchor="start" fill="#2a2a2a" textLength="30.8" lengthAdjust="spacingAndGlyphs">300 μm</text>
<text x="414.60" y="464.20" font-size="9.4" text-anchor="start" fill="#2a2a2a" textLength="30.5" lengthAdjust="spacingAndGlyphs">600 μm</text>
<text x="449.70" y="473.10" font-size="9.4" text-anchor="start" fill="#2a2a2a" textLength="30.5" lengthAdjust="spacingAndGlyphs">900 μm</text>
<line x1="460.60" y1="435.80" x2="460.60" y2="441.20" stroke="#111" stroke-width="0.9"/>
<path d="M460.60,445.20 L458.80,441.20 L462.40,441.20 Z" fill="#111"/>
<line x1="442.40" y1="453.70" x2="446.36" y2="451.10" stroke="#111" stroke-width="0.9"/>
<path d="M449.70,448.90 L447.35,452.60 L445.37,449.59 Z" fill="#111"/>
<line x1="456.90" y1="462.20" x2="456.90" y2="457.70" stroke="#111" stroke-width="0.9"/>
<path d="M456.90,453.70 L458.70,457.70 L455.10,457.70 Z" fill="#111"/>
<text x="2.20" y="544.50" font-size="14" text-anchor="start" fill="#2a2a2a">(g)</text>
<rect x="72.60" y="548.80" width="177.60" height="131.80" fill="none" stroke="#303030" stroke-width="1.15"/>
<line x1="72.60" y1="678.20" x2="75.60" y2="678.20" stroke="#303030" stroke-width="1.0"/>
<line x1="72.60" y1="665.26" x2="74.60" y2="665.26" stroke="#303030" stroke-width="1.0"/>
<line x1="72.60" y1="652.32" x2="75.60" y2="652.32" stroke="#303030" stroke-width="1.0"/>
<line x1="72.60" y1="639.38" x2="74.60" y2="639.38" stroke="#303030" stroke-width="1.0"/>
<line x1="72.60" y1="626.44" x2="75.60" y2="626.44" stroke="#303030" stroke-width="1.0"/>
<line x1="72.60" y1="613.50" x2="74.60" y2="613.50" stroke="#303030" stroke-width="1.0"/>
<line x1="72.60" y1="600.56" x2="75.60" y2="600.56" stroke="#303030" stroke-width="1.0"/>
<line x1="72.60" y1="587.62" x2="74.60" y2="587.62" stroke="#303030" stroke-width="1.0"/>
<line x1="72.60" y1="574.68" x2="75.60" y2="574.68" stroke="#303030" stroke-width="1.0"/>
<line x1="72.60" y1="561.74" x2="74.60" y2="561.74" stroke="#303030" stroke-width="1.0"/>
<line x1="72.60" y1="548.80" x2="75.60" y2="548.80" stroke="#303030" stroke-width="1.0"/>
<line x1="72.50" y1="680.60" x2="72.50" y2="677.60" stroke="#303030" stroke-width="1.0"/>
<line x1="97.30" y1="680.60" x2="97.30" y2="678.60" stroke="#303030" stroke-width="1.0"/>
<line x1="122.10" y1="680.60" x2="122.10" y2="677.60" stroke="#303030" stroke-width="1.0"/>
<line x1="146.90" y1="680.60" x2="146.90" y2="678.60" stroke="#303030" stroke-width="1.0"/>
<line x1="171.70" y1="680.60" x2="171.70" y2="677.60" stroke="#303030" stroke-width="1.0"/>
<line x1="196.50" y1="680.60" x2="196.50" y2="678.60" stroke="#303030" stroke-width="1.0"/>
<line x1="221.30" y1="680.60" x2="221.30" y2="677.60" stroke="#303030" stroke-width="1.0"/>
<line x1="246.10" y1="680.60" x2="246.10" y2="678.60" stroke="#303030" stroke-width="1.0"/>
<text x="66.30" y="683.20" font-size="13.5" text-anchor="end" fill="#2a2a2a">0</text>
<text x="66.30" y="657.32" font-size="13.5" text-anchor="end" fill="#2a2a2a">1</text>
<text x="66.30" y="631.44" font-size="13.5" text-anchor="end" fill="#2a2a2a">2</text>
<text x="66.30" y="605.56" font-size="13.5" text-anchor="end" fill="#2a2a2a">3</text>
<text x="66.30" y="579.68" font-size="13.5" text-anchor="end" fill="#2a2a2a">4</text>
<text x="66.30" y="553.80" font-size="13.5" text-anchor="end" fill="#2a2a2a">5</text>
<text x="72.50" y="694.80" font-size="13.5" text-anchor="middle" fill="#2a2a2a">0</text>
<text x="122.10" y="694.80" font-size="13.5" text-anchor="middle" fill="#2a2a2a">1</text>
<text x="171.70" y="694.80" font-size="13.5" text-anchor="middle" fill="#2a2a2a">2</text>
<text x="221.30" y="694.80" font-size="13.5" text-anchor="middle" fill="#2a2a2a">3</text>
<text x="164.90" y="708.90" font-size="14" text-anchor="middle" fill="#2a2a2a">Re(Z) (kΩ)</text>
<text x="0.00" y="0.00" font-size="13.7" text-anchor="middle" fill="#2a2a2a" transform="translate(45.00,615.90) rotate(-90)">-Im(Z) (kΩ)</text>
<path d="M224.90,562.10 L189.90,586.00 L162.10,607.40 L141.60,623.50 L127.30,636.10 L117.60,645.60 L110.00,653.10 L103.30,659.00 L97.80,663.00 L93.80,666.00 L90.60,668.50 L87.90,670.40 L85.20,672.20 L82.90,673.80 L80.80,675.30 L79.00,676.70 L77.20,677.80 L75.40,678.90 L73.90,679.70" fill="none" stroke="#111" stroke-width="1.0" stroke-linejoin="round"/>
<rect x="223.00" y="560.20" width="3.8" height="3.8" fill="#111"/>
<rect x="188.00" y="584.10" width="3.8" height="3.8" fill="#111"/>
<rect x="160.20" y="605.50" width="3.8" height="3.8" fill="#111"/>
<rect x="139.70" y="621.60" width="3.8" height="3.8" fill="#111"/>
<rect x="125.40" y="634.20" width="3.8" height="3.8" fill="#111"/>
<rect x="115.70" y="643.70" width="3.8" height="3.8" fill="#111"/>
<rect x="108.10" y="651.20" width="3.8" height="3.8" fill="#111"/>
<rect x="101.40" y="657.10" width="3.8" height="3.8" fill="#111"/>
<rect x="95.90" y="661.10" width="3.8" height="3.8" fill="#111"/>
<rect x="91.90" y="664.10" width="3.8" height="3.8" fill="#111"/>
<rect x="88.70" y="666.60" width="3.8" height="3.8" fill="#111"/>
<rect x="86.00" y="668.50" width="3.8" height="3.8" fill="#111"/>
<rect x="83.30" y="670.30" width="3.8" height="3.8" fill="#111"/>
<rect x="81.00" y="671.90" width="3.8" height="3.8" fill="#111"/>
<rect x="78.90" y="673.40" width="3.8" height="3.8" fill="#111"/>
<rect x="77.10" y="674.80" width="3.8" height="3.8" fill="#111"/>
<rect x="75.30" y="675.90" width="3.8" height="3.8" fill="#111"/>
<rect x="73.50" y="677.00" width="3.8" height="3.8" fill="#111"/>
<rect x="72.00" y="677.80" width="3.8" height="3.8" fill="#111"/>
<line x1="82.80" y1="568.50" x2="88.00" y2="568.50" stroke="#3a3a3a" stroke-width="1"/>
<rect x="88" y="567" width="16.6" height="3.1" fill="#fff" stroke="#3a3a3a" stroke-width="1"/>
<line x1="104.60" y1="568.50" x2="110.30" y2="568.50" stroke="#3a3a3a" stroke-width="1"/>
<path d="M110.3,556.1 H142.5 V580.3 H110.3 Z" fill="none" stroke="#3a3a3a" stroke-width="1"/>
<rect x="118.3" y="554.8" width="16.5" height="3.2" fill="#fff" stroke="#3a3a3a" stroke-width="1"/>
<rect x="123.6" y="578" width="2.7" height="5" fill="#fff"/>
<line x1="123.50" y1="577.00" x2="123.50" y2="583.80" stroke="#3a3a3a" stroke-width="1.1"/>
<line x1="126.50" y1="577.00" x2="126.50" y2="583.80" stroke="#3a3a3a" stroke-width="1.1"/>
<line x1="142.50" y1="568.50" x2="147.40" y2="568.50" stroke="#3a3a3a" stroke-width="1"/>
<path d="M147.4,568.5 L148.8,566.4 L150.9,570.6 L153,566.4 L155.1,570.6 L157.2,566.4 L158.3,568.5 H162.7" fill="none" stroke="#3a3a3a" stroke-width="1.25"/>
<text x="121.5" y="569" font-size="10" fill="#2a2a2a">R<tspan dy="2" font-size="6.5">c</tspan></text>
<text x="93.3" y="581.9" font-size="10" fill="#2a2a2a">R<tspan dy="2" font-size="6.5">s</tspan></text>
<text x="147.70" y="580.30" font-size="10" text-anchor="start" fill="#2a2a2a">W</text>
<text x="119.1" y="593.2" font-size="10" fill="#2a2a2a">C<tspan dy="2" font-size="6.5">dl</tspan></text>
<rect x="177.4" y="608.6" width="70.9" height="52.39999999999998" fill="#fff" stroke="#303030" stroke-width="1.2"/>
<line x1="177.40" y1="613.00" x2="179.20" y2="613.00" stroke="#303030" stroke-width="1.0"/>
<line x1="177.40" y1="622.40" x2="179.20" y2="622.40" stroke="#303030" stroke-width="1.0"/>
<line x1="177.40" y1="631.90" x2="179.20" y2="631.90" stroke="#303030" stroke-width="1.0"/>
<line x1="177.40" y1="641.50" x2="179.20" y2="641.50" stroke="#303030" stroke-width="1.0"/>
<line x1="177.40" y1="651.20" x2="179.20" y2="651.20" stroke="#303030" stroke-width="1.0"/>
<line x1="192.80" y1="661.00" x2="192.80" y2="659.20" stroke="#303030" stroke-width="1.0"/>
<line x1="211.10" y1="661.00" x2="211.10" y2="659.20" stroke="#303030" stroke-width="1.0"/>
<line x1="229.40" y1="661.00" x2="229.40" y2="659.20" stroke="#303030" stroke-width="1.0"/>
<text x="176.50" y="615.80" font-size="9.2" text-anchor="end" fill="#2a2a2a">0.2</text>
<text x="176.50" y="636.20" font-size="9.2" text-anchor="end" fill="#2a2a2a">0.1</text>
<text x="176.50" y="664.60" font-size="9.2" text-anchor="end" fill="#2a2a2a">0.0</text>
<text x="191.40" y="668.80" font-size="9.2" text-anchor="middle" fill="#2a2a2a">0.1</text>
<text x="228.60" y="669.10" font-size="9.2" text-anchor="middle" fill="#2a2a2a">0.2</text>
<text x="212.50" y="676.50" font-size="7.9" text-anchor="middle" fill="#2a2a2a">Re(Z) (kΩ)</text>
<text x="0.00" y="0.00" font-size="9.2" text-anchor="middle" fill="#2a2a2a" transform="translate(160.50,640.20) rotate(-90)">-Im(Z) (kΩ)</text>
<path d="M184.20,655.40 C184.50,655.18 185.37,654.53 186.00,654.10 C186.63,653.67 187.33,653.23 188.00,652.80 C188.67,652.37 189.25,651.95 190.00,651.50 C190.75,651.05 191.67,650.58 192.50,650.10 C193.33,649.62 193.92,649.20 195.00,648.60 C196.08,648.00 197.52,647.25 199.00,646.50 C200.48,645.75 202.48,644.92 203.90,644.10 C205.32,643.28 206.20,642.52 207.50,641.60 C208.80,640.68 210.17,639.75 211.70,638.60 C213.23,637.45 214.85,636.28 216.70,634.70 C218.55,633.12 220.48,631.20 222.80,629.10 C225.12,627.00 227.73,624.82 230.60,622.10 C233.47,619.38 238.43,614.35 240.00,612.80" fill="none" stroke="#111" stroke-width="1.0" stroke-linejoin="round"/>
<path d="M184.2,655.5 L187,653.6 L190.5,651.3 L194,649.1" stroke="#111" stroke-width="2.1" fill="none" stroke-linecap="round"/>
<circle cx="195" cy="648.6" r="0.85" fill="#111"/>
<circle cx="199" cy="646.5" r="0.85" fill="#111"/>
<circle cx="203.9" cy="644.1" r="0.85" fill="#111"/>
<circle cx="207.5" cy="641.6" r="0.85" fill="#111"/>
<circle cx="211.7" cy="638.6" r="0.85" fill="#111"/>
<circle cx="216.7" cy="634.7" r="0.85" fill="#111"/>
<circle cx="222.8" cy="629.1" r="0.85" fill="#111"/>
<circle cx="230.6" cy="622.1" r="0.85" fill="#111"/>
<circle cx="240" cy="612.8" r="0.85" fill="#111"/>
<text x="301.80" y="542.80" font-size="14" text-anchor="start" fill="#2a2a2a">(h)</text>
<rect x="364.50" y="549.80" width="177.20" height="131.80" fill="none" stroke="#303030" stroke-width="1.15"/>
<line x1="364.50" y1="672.90" x2="367.50" y2="672.90" stroke="#303030" stroke-width="1.0"/>
<line x1="364.50" y1="659.10" x2="366.50" y2="659.10" stroke="#303030" stroke-width="1.0"/>
<line x1="364.50" y1="645.30" x2="367.50" y2="645.30" stroke="#303030" stroke-width="1.0"/>
<line x1="364.50" y1="631.50" x2="366.50" y2="631.50" stroke="#303030" stroke-width="1.0"/>
<line x1="364.50" y1="617.70" x2="367.50" y2="617.70" stroke="#303030" stroke-width="1.0"/>
<line x1="364.50" y1="603.90" x2="366.50" y2="603.90" stroke="#303030" stroke-width="1.0"/>
<line x1="364.50" y1="590.10" x2="367.50" y2="590.10" stroke="#303030" stroke-width="1.0"/>
<line x1="364.50" y1="576.30" x2="366.50" y2="576.30" stroke="#303030" stroke-width="1.0"/>
<line x1="364.50" y1="562.50" x2="367.50" y2="562.50" stroke="#303030" stroke-width="1.0"/>
<line x1="371.40" y1="681.60" x2="371.40" y2="678.60" stroke="#303030" stroke-width="1.0"/>
<line x1="378.65" y1="681.60" x2="378.65" y2="679.90" stroke="#303030" stroke-width="1.0"/>
<line x1="382.90" y1="681.60" x2="382.90" y2="679.90" stroke="#303030" stroke-width="1.0"/>
<line x1="385.91" y1="681.60" x2="385.91" y2="679.90" stroke="#303030" stroke-width="1.0"/>
<line x1="388.25" y1="681.60" x2="388.25" y2="679.90" stroke="#303030" stroke-width="1.0"/>
<line x1="390.15" y1="681.60" x2="390.15" y2="679.90" stroke="#303030" stroke-width="1.0"/>
<line x1="391.77" y1="681.60" x2="391.77" y2="679.90" stroke="#303030" stroke-width="1.0"/>
<line x1="393.16" y1="681.60" x2="393.16" y2="679.90" stroke="#303030" stroke-width="1.0"/>
<line x1="394.40" y1="681.60" x2="394.40" y2="679.90" stroke="#303030" stroke-width="1.0"/>
<line x1="395.50" y1="681.60" x2="395.50" y2="678.60" stroke="#303030" stroke-width="1.0"/>
<line x1="402.75" y1="681.60" x2="402.75" y2="679.90" stroke="#303030" stroke-width="1.0"/>
<line x1="407.00" y1="681.60" x2="407.00" y2="679.90" stroke="#303030" stroke-width="1.0"/>
<line x1="410.01" y1="681.60" x2="410.01" y2="679.90" stroke="#303030" stroke-width="1.0"/>
<line x1="412.35" y1="681.60" x2="412.35" y2="679.90" stroke="#303030" stroke-width="1.0"/>
<line x1="414.25" y1="681.60" x2="414.25" y2="679.90" stroke="#303030" stroke-width="1.0"/>
<line x1="415.87" y1="681.60" x2="415.87" y2="679.90" stroke="#303030" stroke-width="1.0"/>
<line x1="417.26" y1="681.60" x2="417.26" y2="679.90" stroke="#303030" stroke-width="1.0"/>
<line x1="418.50" y1="681.60" x2="418.50" y2="679.90" stroke="#303030" stroke-width="1.0"/>
<line x1="419.60" y1="681.60" x2="419.60" y2="678.60" stroke="#303030" stroke-width="1.0"/>
<line x1="426.85" y1="681.60" x2="426.85" y2="679.90" stroke="#303030" stroke-width="1.0"/>
<line x1="431.10" y1="681.60" x2="431.10" y2="679.90" stroke="#303030" stroke-width="1.0"/>
<line x1="434.11" y1="681.60" x2="434.11" y2="679.90" stroke="#303030" stroke-width="1.0"/>
<line x1="436.45" y1="681.60" x2="436.45" y2="679.90" stroke="#303030" stroke-width="1.0"/>
<line x1="438.35" y1="681.60" x2="438.35" y2="679.90" stroke="#303030" stroke-width="1.0"/>
<line x1="439.97" y1="681.60" x2="439.97" y2="679.90" stroke="#303030" stroke-width="1.0"/>
<line x1="441.36" y1="681.60" x2="441.36" y2="679.90" stroke="#303030" stroke-width="1.0"/>
<line x1="442.60" y1="681.60" x2="442.60" y2="679.90" stroke="#303030" stroke-width="1.0"/>
<line x1="443.70" y1="681.60" x2="443.70" y2="678.60" stroke="#303030" stroke-width="1.0"/>
<line x1="450.95" y1="681.60" x2="450.95" y2="679.90" stroke="#303030" stroke-width="1.0"/>
<line x1="455.20" y1="681.60" x2="455.20" y2="679.90" stroke="#303030" stroke-width="1.0"/>
<line x1="458.21" y1="681.60" x2="458.21" y2="679.90" stroke="#303030" stroke-width="1.0"/>
<line x1="460.55" y1="681.60" x2="460.55" y2="679.90" stroke="#303030" stroke-width="1.0"/>
<line x1="462.45" y1="681.60" x2="462.45" y2="679.90" stroke="#303030" stroke-width="1.0"/>
<line x1="464.07" y1="681.60" x2="464.07" y2="679.90" stroke="#303030" stroke-width="1.0"/>
<line x1="465.46" y1="681.60" x2="465.46" y2="679.90" stroke="#303030" stroke-width="1.0"/>
<line x1="466.70" y1="681.60" x2="466.70" y2="679.90" stroke="#303030" stroke-width="1.0"/>
<line x1="467.80" y1="681.60" x2="467.80" y2="678.60" stroke="#303030" stroke-width="1.0"/>
<line x1="475.05" y1="681.60" x2="475.05" y2="679.90" stroke="#303030" stroke-width="1.0"/>
<line x1="479.30" y1="681.60" x2="479.30" y2="679.90" stroke="#303030" stroke-width="1.0"/>
<line x1="482.31" y1="681.60" x2="482.31" y2="679.90" stroke="#303030" stroke-width="1.0"/>
<line x1="484.65" y1="681.60" x2="484.65" y2="679.90" stroke="#303030" stroke-width="1.0"/>
<line x1="486.55" y1="681.60" x2="486.55" y2="679.90" stroke="#303030" stroke-width="1.0"/>
<line x1="488.17" y1="681.60" x2="488.17" y2="679.90" stroke="#303030" stroke-width="1.0"/>
<line x1="489.56" y1="681.60" x2="489.56" y2="679.90" stroke="#303030" stroke-width="1.0"/>
<line x1="490.80" y1="681.60" x2="490.80" y2="679.90" stroke="#303030" stroke-width="1.0"/>
<line x1="491.90" y1="681.60" x2="491.90" y2="678.60" stroke="#303030" stroke-width="1.0"/>
<line x1="499.15" y1="681.60" x2="499.15" y2="679.90" stroke="#303030" stroke-width="1.0"/>
<line x1="503.40" y1="681.60" x2="503.40" y2="679.90" stroke="#303030" stroke-width="1.0"/>
<line x1="506.41" y1="681.60" x2="506.41" y2="679.90" stroke="#303030" stroke-width="1.0"/>
<line x1="508.75" y1="681.60" x2="508.75" y2="679.90" stroke="#303030" stroke-width="1.0"/>
<line x1="510.65" y1="681.60" x2="510.65" y2="679.90" stroke="#303030" stroke-width="1.0"/>
<line x1="512.27" y1="681.60" x2="512.27" y2="679.90" stroke="#303030" stroke-width="1.0"/>
<line x1="513.66" y1="681.60" x2="513.66" y2="679.90" stroke="#303030" stroke-width="1.0"/>
<line x1="514.90" y1="681.60" x2="514.90" y2="679.90" stroke="#303030" stroke-width="1.0"/>
<line x1="516.00" y1="681.60" x2="516.00" y2="678.60" stroke="#303030" stroke-width="1.0"/>
<line x1="523.25" y1="681.60" x2="523.25" y2="679.90" stroke="#303030" stroke-width="1.0"/>
<line x1="527.50" y1="681.60" x2="527.50" y2="679.90" stroke="#303030" stroke-width="1.0"/>
<line x1="530.51" y1="681.60" x2="530.51" y2="679.90" stroke="#303030" stroke-width="1.0"/>
<line x1="532.85" y1="681.60" x2="532.85" y2="679.90" stroke="#303030" stroke-width="1.0"/>
<line x1="534.75" y1="681.60" x2="534.75" y2="679.90" stroke="#303030" stroke-width="1.0"/>
<line x1="536.37" y1="681.60" x2="536.37" y2="679.90" stroke="#303030" stroke-width="1.0"/>
<line x1="537.76" y1="681.60" x2="537.76" y2="679.90" stroke="#303030" stroke-width="1.0"/>
<line x1="539.00" y1="681.60" x2="539.00" y2="679.90" stroke="#303030" stroke-width="1.0"/>
<line x1="540.10" y1="681.60" x2="540.10" y2="678.60" stroke="#303030" stroke-width="1.0"/>
<text x="358.80" y="677.50" font-size="13.5" text-anchor="end" fill="#2a2a2a">0</text>
<text x="358.80" y="649.90" font-size="13.5" text-anchor="end" fill="#2a2a2a">1</text>
<text x="358.80" y="622.30" font-size="13.5" text-anchor="end" fill="#2a2a2a">2</text>
<text x="358.80" y="594.70" font-size="13.5" text-anchor="end" fill="#2a2a2a">3</text>
<text x="358.80" y="567.10" font-size="13.5" text-anchor="end" fill="#2a2a2a">4</text>
<text x="360" y="694.5" font-size="13" fill="#2a2a2a">10<tspan dy="-5" font-size="8.3">-1</tspan></text>
<text x="384.8" y="694.5" font-size="13" fill="#2a2a2a">10<tspan dy="-5" font-size="8.3">0</tspan></text>
<text x="407.9" y="694.5" font-size="13" fill="#2a2a2a">10<tspan dy="-5" font-size="8.3">1</tspan></text>
<text x="431" y="694.5" font-size="13" fill="#2a2a2a">10<tspan dy="-5" font-size="8.3">2</tspan></text>
<text x="453" y="694.5" font-size="13" fill="#2a2a2a">10<tspan dy="-5" font-size="8.3">3</tspan></text>
<text x="482.4" y="694.5" font-size="13" fill="#2a2a2a">10<tspan dy="-5" font-size="8.3">4</tspan></text>
<text x="505.5" y="694.5" font-size="13" fill="#2a2a2a">10<tspan dy="-5" font-size="8.3">5</tspan></text>
<text x="530.3" y="694.5" font-size="13" fill="#2a2a2a">10<tspan dy="-5" font-size="8.3">6</tspan></text>
<text x="473.50" y="711.80" font-size="14" text-anchor="middle" fill="#2a2a2a">Frequency (Hz)</text>
<text x="0.00" y="0.00" font-size="14" text-anchor="middle" fill="#2a2a2a" transform="translate(326.50,619.40) rotate(-90)">Specific capacitance</text>
<text transform="translate(343.6,619.4) rotate(-90)" font-size="13.5" text-anchor="middle" fill="#2a2a2a">(mF/cm<tspan dy="-5" font-size="9">2</tspan><tspan dy="5">)</tspan></text>
<path d="M371.70,570.10 L375.83,585.33 L379.96,596.42 L384.09,605.63 L388.22,615.37 L392.35,623.64 L396.48,630.29 L400.61,636.91 L404.74,642.77 L408.87,648.36 L413.00,652.25 L417.13,655.95 L421.26,659.03 L425.39,661.72 L429.52,664.29 L433.65,666.14 L437.78,667.75 L441.91,669.35 L446.04,670.40 L450.17,671.34 L454.30,671.93 L458.43,672.31 L462.56,672.52 L466.69,672.72 L470.82,672.93 L474.95,673.00 L479.08,673.00 L483.21,673.00 L487.34,673.00 L491.47,673.00 L495.60,673.00 L499.73,673.00 L503.86,673.00 L507.99,673.00 L512.12,673.00 L516.25,673.00 L520.38,673.00 L524.51,673.00 L528.64,673.00 L532.77,673.00 L536.90,673.00 L541.03,673.00" fill="none" stroke="#111" stroke-width="1.0" stroke-linejoin="round"/>
<rect x="369.90" y="568.30" width="3.6" height="3.6" fill="#111"/>
<rect x="374.03" y="583.53" width="3.6" height="3.6" fill="#111"/>
<rect x="378.16" y="594.62" width="3.6" height="3.6" fill="#111"/>
<rect x="382.29" y="603.83" width="3.6" height="3.6" fill="#111"/>
<rect x="386.42" y="613.57" width="3.6" height="3.6" fill="#111"/>
<rect x="390.55" y="621.84" width="3.6" height="3.6" fill="#111"/>
<rect x="394.68" y="628.49" width="3.6" height="3.6" fill="#111"/>
<rect x="398.81" y="635.11" width="3.6" height="3.6" fill="#111"/>
<rect x="402.94" y="640.97" width="3.6" height="3.6" fill="#111"/>
<rect x="407.07" y="646.56" width="3.6" height="3.6" fill="#111"/>
<rect x="411.20" y="650.45" width="3.6" height="3.6" fill="#111"/>
<rect x="415.33" y="654.15" width="3.6" height="3.6" fill="#111"/>
<rect x="419.46" y="657.23" width="3.6" height="3.6" fill="#111"/>
<rect x="423.59" y="659.92" width="3.6" height="3.6" fill="#111"/>
<rect x="427.72" y="662.49" width="3.6" height="3.6" fill="#111"/>
<rect x="431.85" y="664.34" width="3.6" height="3.6" fill="#111"/>
<rect x="435.98" y="665.95" width="3.6" height="3.6" fill="#111"/>
<rect x="440.11" y="667.55" width="3.6" height="3.6" fill="#111"/>
<rect x="444.24" y="668.60" width="3.6" height="3.6" fill="#111"/>
<rect x="448.37" y="669.54" width="3.6" height="3.6" fill="#111"/>
<rect x="452.50" y="670.13" width="3.6" height="3.6" fill="#111"/>
<rect x="456.63" y="670.51" width="3.6" height="3.6" fill="#111"/>
<rect x="460.76" y="670.72" width="3.6" height="3.6" fill="#111"/>
<rect x="464.89" y="670.92" width="3.6" height="3.6" fill="#111"/>
<rect x="469.02" y="671.13" width="3.6" height="3.6" fill="#111"/>
<rect x="473.15" y="671.20" width="3.6" height="3.6" fill="#111"/>
<rect x="477.28" y="671.20" width="3.6" height="3.6" fill="#111"/>
<rect x="481.41" y="671.20" width="3.6" height="3.6" fill="#111"/>
<rect x="485.54" y="671.20" width="3.6" height="3.6" fill="#111"/>
<rect x="489.67" y="671.20" width="3.6" height="3.6" fill="#111"/>
<rect x="493.80" y="671.20" width="3.6" height="3.6" fill="#111"/>
<rect x="497.93" y="671.20" width="3.6" height="3.6" fill="#111"/>
<rect x="502.06" y="671.20" width="3.6" height="3.6" fill="#111"/>
<rect x="506.19" y="671.20" width="3.6" height="3.6" fill="#111"/>
<rect x="510.32" y="671.20" width="3.6" height="3.6" fill="#111"/>
<rect x="514.45" y="671.20" width="3.6" height="3.6" fill="#111"/>
<rect x="518.58" y="671.20" width="3.6" height="3.6" fill="#111"/>
<rect x="522.71" y="671.20" width="3.6" height="3.6" fill="#111"/>
<rect x="526.84" y="671.20" width="3.6" height="3.6" fill="#111"/>
<rect x="530.97" y="671.20" width="3.6" height="3.6" fill="#111"/>
<rect x="535.10" y="671.20" width="3.6" height="3.6" fill="#111"/>
<rect x="539.23" y="671.20" width="3.6" height="3.6" fill="#111"/>
</svg></body></html>
